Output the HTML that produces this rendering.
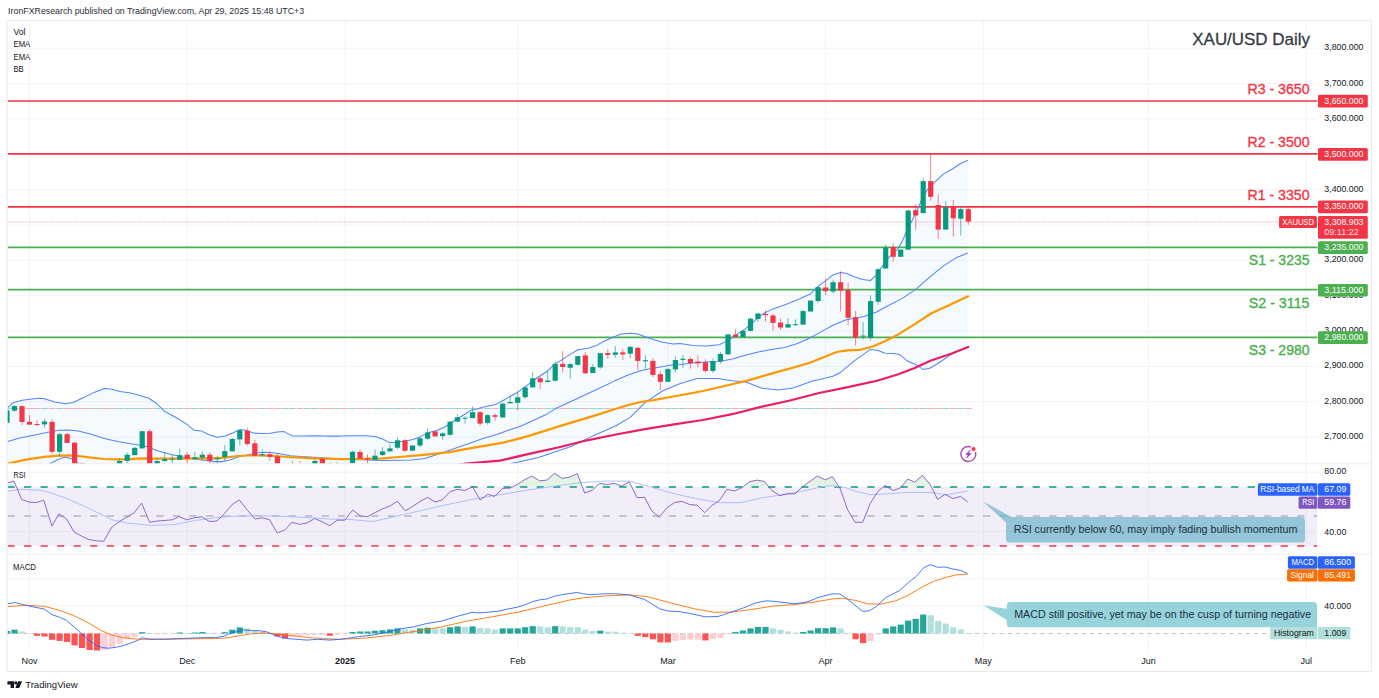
<!DOCTYPE html>
<html><head><meta charset="utf-8"><title>XAU/USD Daily</title>
<style>html,body{margin:0;padding:0;background:#fff;}body{width:1379px;height:698px;overflow:hidden;font-family:"Liberation Sans",Arial,sans-serif;}svg{display:block;}</style>
</head><body>
<svg width="1379" height="698" viewBox="0 0 1379 698" font-family="Liberation Sans, Arial, sans-serif">
<defs>
<clipPath id="c1"><rect x="7.5" y="20.5" width="1310.0" height="443.3"/></clipPath>
<clipPath id="c2"><rect x="7.5" y="463.8" width="1310.0" height="90.19999999999999"/></clipPath>
<clipPath id="c3"><rect x="7.5" y="554.0" width="1310.0" height="96.5"/></clipPath>
<clipPath id="c70"><rect x="7.5" y="463.8" width="1310.0" height="23.0"/></clipPath>
<linearGradient id="gg" x1="0" y1="0" x2="0" y2="1"><stop offset="0" stop-color="#4caf50" stop-opacity="0.17"/><stop offset="1" stop-color="#4caf50" stop-opacity="0.04"/></linearGradient>
</defs>
<rect width="1379" height="698" fill="#fff"/>
<line x1="29.5" y1="20.5" x2="29.5" y2="650.5" stroke="#f3f3f5" stroke-width="1"/>
<line x1="187.2" y1="20.5" x2="187.2" y2="650.5" stroke="#f3f3f5" stroke-width="1"/>
<line x1="344.9" y1="20.5" x2="344.9" y2="650.5" stroke="#f3f3f5" stroke-width="1"/>
<line x1="517.7" y1="20.5" x2="517.7" y2="650.5" stroke="#f3f3f5" stroke-width="1"/>
<line x1="667.9" y1="20.5" x2="667.9" y2="650.5" stroke="#f3f3f5" stroke-width="1"/>
<line x1="825.6" y1="20.5" x2="825.6" y2="650.5" stroke="#f3f3f5" stroke-width="1"/>
<line x1="983.3" y1="20.5" x2="983.3" y2="650.5" stroke="#f3f3f5" stroke-width="1"/>
<line x1="1148.5" y1="20.5" x2="1148.5" y2="650.5" stroke="#f3f3f5" stroke-width="1"/>
<line x1="1306.2" y1="20.5" x2="1306.2" y2="650.5" stroke="#f3f3f5" stroke-width="1"/>
<line x1="7.5" y1="437.2" x2="1317.5" y2="437.2" stroke="#f3f3f5" stroke-width="1"/>
<line x1="7.5" y1="401.8" x2="1317.5" y2="401.8" stroke="#f3f3f5" stroke-width="1"/>
<line x1="7.5" y1="366.4" x2="1317.5" y2="366.4" stroke="#f3f3f5" stroke-width="1"/>
<line x1="7.5" y1="331.1" x2="1317.5" y2="331.1" stroke="#f3f3f5" stroke-width="1"/>
<line x1="7.5" y1="295.7" x2="1317.5" y2="295.7" stroke="#f3f3f5" stroke-width="1"/>
<line x1="7.5" y1="260.4" x2="1317.5" y2="260.4" stroke="#f3f3f5" stroke-width="1"/>
<line x1="7.5" y1="225.0" x2="1317.5" y2="225.0" stroke="#f3f3f5" stroke-width="1"/>
<line x1="7.5" y1="189.6" x2="1317.5" y2="189.6" stroke="#f3f3f5" stroke-width="1"/>
<line x1="7.5" y1="154.3" x2="1317.5" y2="154.3" stroke="#f3f3f5" stroke-width="1"/>
<line x1="7.5" y1="118.9" x2="1317.5" y2="118.9" stroke="#f3f3f5" stroke-width="1"/>
<line x1="7.5" y1="83.6" x2="1317.5" y2="83.6" stroke="#f3f3f5" stroke-width="1"/>
<line x1="7.5" y1="48.2" x2="1317.5" y2="48.2" stroke="#f3f3f5" stroke-width="1"/>
<line x1="7.5" y1="472.3" x2="1317.5" y2="472.3" stroke="#f3f3f5" stroke-width="1"/>
<line x1="7.5" y1="531.5" x2="1317.5" y2="531.5" stroke="#f3f3f5" stroke-width="1"/>
<line x1="7.5" y1="578.7" x2="1317.5" y2="578.7" stroke="#f3f3f5" stroke-width="1"/>
<line x1="7.5" y1="605.8" x2="1317.5" y2="605.8" stroke="#f3f3f5" stroke-width="1"/>
<g clip-path="url(#c1)">
<polygon points="7.8,407.7 13.0,402.8 22.2,400.2 30.0,399.3 39.2,398.3 44.4,398.7 54.8,401.9 65.3,403.8 73.1,402.5 83.6,397.6 94.0,392.4 104.4,388.5 111.0,388.9 120.1,391.5 130.5,393.1 141.0,395.7 148.8,398.3 156.7,403.5 164.5,411.3 170.0,414.2 177.8,418.5 187.0,424.4 194.2,430.3 201.3,430.9 209.2,434.8 217.0,437.2 224.8,436.1 232.7,432.9 240.0,429.6 245.7,430.3 253.6,433.1 261.4,433.5 270.5,433.3 277.0,432.0 284.2,431.6 292.7,436.1 300.5,435.9 313.6,435.7 326.7,436.1 340.0,436.1 353.0,435.7 366.1,435.7 375.2,436.4 383.1,439.2 389.6,442.6 396.1,442.2 405.3,440.9 413.1,439.6 420.9,436.4 428.8,432.4 436.6,430.5 444.4,427.2 451.0,422.7 457.5,418.7 464.0,414.8 470.5,410.5 475.8,409.2 483.6,407.0 495.4,404.4 503.2,400.5 510.0,396.5 517.8,392.2 525.7,386.4 536.1,378.5 547.9,370.7 555.0,363.9 562.2,359.6 570.1,354.4 577.9,349.8 588.3,348.2 596.2,345.6 604.0,341.3 611.8,337.7 621.0,334.1 630.1,333.2 637.9,334.1 645.8,337.0 653.6,339.4 661.4,342.0 673.2,343.9 680.0,343.5 693.1,345.5 706.1,345.9 719.2,344.8 725.7,341.6 732.2,337.7 738.7,333.1 745.3,328.9 751.8,323.3 758.3,317.4 764.9,312.8 771.4,309.6 784.4,305.0 797.5,299.8 800.0,298.6 810.4,294.0 818.3,286.1 826.1,280.3 832.6,275.1 840.5,272.4 847.0,273.4 854.8,277.0 862.7,279.6 870.5,280.5 875.7,275.7 882.2,266.6 888.8,257.4 896.6,250.2 901.8,242.4 905.7,233.3 911.0,222.8 917.5,209.2 922.7,197.4 927.9,189.0 935.8,181.1 943.6,173.9 952.7,168.7 960.6,163.5 967.8,160.2 967.5,346.8 950.5,354.9 937.5,363.8 929.7,368.3 923.1,369.4 916.6,365.1 907.5,361.1 899.6,354.6 893.1,353.6 885.3,353.3 877.4,350.3 870.3,349.4 863.1,354.6 853.9,361.1 840.9,372.2 833.0,376.2 820.0,379.4 813.3,380.8 793.0,388.1 778.5,390.1 761.0,388.1 746.6,382.3 732.0,380.8 717.5,378.5 697.2,378.5 679.8,383.7 662.4,391.0 645.0,402.6 630.5,417.1 616.0,425.8 592.8,435.9 572.5,446.1 537.7,457.7 511.6,463.5 490.0,472.0 400.0,482.0 200.0,482.0 90.0,472.0 78.3,463.5 72.0,459.0 65.3,457.0 58.0,459.5 50.3,463.5 40.0,470.0 7.8,478.0" fill="#2196f3" fill-opacity="0.05"/>
<line x1="3.5" y1="408.5" x2="10.5" y2="408.5" stroke="#86cdc5" stroke-width="1" stroke-opacity="0.85"/>
<line x1="11.0" y1="408.5" x2="18.0" y2="408.5" stroke="#86cdc5" stroke-width="1" stroke-opacity="0.85"/>
<line x1="18.5" y1="408.5" x2="25.5" y2="408.5" stroke="#fa9fa2" stroke-width="1" stroke-opacity="0.85"/>
<line x1="26.0" y1="408.5" x2="33.0" y2="408.5" stroke="#fa9fa2" stroke-width="1" stroke-opacity="0.85"/>
<line x1="33.5" y1="408.5" x2="40.5" y2="408.5" stroke="#fa9fa2" stroke-width="1" stroke-opacity="0.85"/>
<line x1="41.0" y1="408.5" x2="48.0" y2="408.5" stroke="#86cdc5" stroke-width="1" stroke-opacity="0.85"/>
<line x1="48.6" y1="408.5" x2="55.6" y2="408.5" stroke="#fa9fa2" stroke-width="1" stroke-opacity="0.85"/>
<line x1="56.1" y1="408.5" x2="63.1" y2="408.5" stroke="#86cdc5" stroke-width="1" stroke-opacity="0.85"/>
<line x1="63.6" y1="408.5" x2="70.6" y2="408.5" stroke="#fa9fa2" stroke-width="1" stroke-opacity="0.85"/>
<line x1="71.1" y1="408.5" x2="78.1" y2="408.5" stroke="#fa9fa2" stroke-width="1" stroke-opacity="0.85"/>
<line x1="78.6" y1="408.5" x2="85.6" y2="408.5" stroke="#fa9fa2" stroke-width="1" stroke-opacity="0.85"/>
<line x1="86.1" y1="408.5" x2="93.1" y2="408.5" stroke="#fa9fa2" stroke-width="1" stroke-opacity="0.85"/>
<line x1="93.6" y1="408.5" x2="100.6" y2="408.5" stroke="#86cdc5" stroke-width="1" stroke-opacity="0.85"/>
<line x1="101.1" y1="408.5" x2="108.1" y2="408.5" stroke="#fa9fa2" stroke-width="1" stroke-opacity="0.85"/>
<line x1="108.6" y1="408.5" x2="115.6" y2="408.5" stroke="#fa9fa2" stroke-width="1" stroke-opacity="0.85"/>
<line x1="116.1" y1="408.5" x2="123.1" y2="408.5" stroke="#86cdc5" stroke-width="1" stroke-opacity="0.85"/>
<line x1="123.7" y1="408.5" x2="130.7" y2="408.5" stroke="#86cdc5" stroke-width="1" stroke-opacity="0.85"/>
<line x1="131.2" y1="408.5" x2="138.2" y2="408.5" stroke="#86cdc5" stroke-width="1" stroke-opacity="0.85"/>
<line x1="138.7" y1="408.5" x2="145.7" y2="408.5" stroke="#86cdc5" stroke-width="1" stroke-opacity="0.85"/>
<line x1="146.2" y1="408.5" x2="153.2" y2="408.5" stroke="#fa9fa2" stroke-width="1" stroke-opacity="0.85"/>
<line x1="153.7" y1="408.5" x2="160.7" y2="408.5" stroke="#86cdc5" stroke-width="1" stroke-opacity="0.85"/>
<line x1="161.2" y1="408.5" x2="168.2" y2="408.5" stroke="#86cdc5" stroke-width="1" stroke-opacity="0.85"/>
<line x1="168.7" y1="408.5" x2="175.7" y2="408.5" stroke="#86cdc5" stroke-width="1" stroke-opacity="0.85"/>
<line x1="176.2" y1="408.5" x2="183.2" y2="408.5" stroke="#86cdc5" stroke-width="1" stroke-opacity="0.85"/>
<line x1="183.7" y1="408.5" x2="190.7" y2="408.5" stroke="#fa9fa2" stroke-width="1" stroke-opacity="0.85"/>
<line x1="191.2" y1="408.5" x2="198.2" y2="408.5" stroke="#86cdc5" stroke-width="1" stroke-opacity="0.85"/>
<line x1="198.8" y1="408.5" x2="205.8" y2="408.5" stroke="#86cdc5" stroke-width="1" stroke-opacity="0.85"/>
<line x1="206.3" y1="408.5" x2="213.3" y2="408.5" stroke="#fa9fa2" stroke-width="1" stroke-opacity="0.85"/>
<line x1="213.8" y1="408.5" x2="220.8" y2="408.5" stroke="#86cdc5" stroke-width="1" stroke-opacity="0.85"/>
<line x1="221.3" y1="408.5" x2="228.3" y2="408.5" stroke="#86cdc5" stroke-width="1" stroke-opacity="0.85"/>
<line x1="228.8" y1="408.5" x2="235.8" y2="408.5" stroke="#86cdc5" stroke-width="1" stroke-opacity="0.85"/>
<line x1="236.3" y1="408.5" x2="243.3" y2="408.5" stroke="#86cdc5" stroke-width="1" stroke-opacity="0.85"/>
<line x1="243.8" y1="408.5" x2="250.8" y2="408.5" stroke="#fa9fa2" stroke-width="1" stroke-opacity="0.85"/>
<line x1="251.3" y1="408.5" x2="258.3" y2="408.5" stroke="#fa9fa2" stroke-width="1" stroke-opacity="0.85"/>
<line x1="258.8" y1="408.5" x2="265.8" y2="408.5" stroke="#86cdc5" stroke-width="1" stroke-opacity="0.85"/>
<line x1="266.3" y1="408.5" x2="273.3" y2="408.5" stroke="#fa9fa2" stroke-width="1" stroke-opacity="0.85"/>
<line x1="273.9" y1="408.5" x2="280.9" y2="408.5" stroke="#fa9fa2" stroke-width="1" stroke-opacity="0.85"/>
<line x1="281.4" y1="408.5" x2="288.4" y2="408.5" stroke="#86cdc5" stroke-width="1" stroke-opacity="0.85"/>
<line x1="288.9" y1="408.5" x2="295.9" y2="408.5" stroke="#86cdc5" stroke-width="1" stroke-opacity="0.85"/>
<line x1="296.4" y1="408.5" x2="303.4" y2="408.5" stroke="#fa9fa2" stroke-width="1" stroke-opacity="0.85"/>
<line x1="303.9" y1="408.5" x2="310.9" y2="408.5" stroke="#86cdc5" stroke-width="1" stroke-opacity="0.85"/>
<line x1="311.4" y1="408.5" x2="318.4" y2="408.5" stroke="#86cdc5" stroke-width="1" stroke-opacity="0.85"/>
<line x1="318.9" y1="408.5" x2="325.9" y2="408.5" stroke="#fa9fa2" stroke-width="1" stroke-opacity="0.85"/>
<line x1="326.4" y1="408.5" x2="333.4" y2="408.5" stroke="#fa9fa2" stroke-width="1" stroke-opacity="0.85"/>
<line x1="333.9" y1="408.5" x2="340.9" y2="408.5" stroke="#86cdc5" stroke-width="1" stroke-opacity="0.85"/>
<line x1="341.4" y1="408.5" x2="348.4" y2="408.5" stroke="#fa9fa2" stroke-width="1" stroke-opacity="0.85"/>
<line x1="349.0" y1="408.5" x2="356.0" y2="408.5" stroke="#86cdc5" stroke-width="1" stroke-opacity="0.85"/>
<line x1="356.5" y1="408.5" x2="363.5" y2="408.5" stroke="#fa9fa2" stroke-width="1" stroke-opacity="0.85"/>
<line x1="364.0" y1="408.5" x2="371.0" y2="408.5" stroke="#fa9fa2" stroke-width="1" stroke-opacity="0.85"/>
<line x1="371.5" y1="408.5" x2="378.5" y2="408.5" stroke="#86cdc5" stroke-width="1" stroke-opacity="0.85"/>
<line x1="379.0" y1="408.5" x2="386.0" y2="408.5" stroke="#86cdc5" stroke-width="1" stroke-opacity="0.85"/>
<line x1="386.5" y1="408.5" x2="393.5" y2="408.5" stroke="#86cdc5" stroke-width="1" stroke-opacity="0.85"/>
<line x1="394.0" y1="408.5" x2="401.0" y2="408.5" stroke="#86cdc5" stroke-width="1" stroke-opacity="0.85"/>
<line x1="401.5" y1="408.5" x2="408.5" y2="408.5" stroke="#fa9fa2" stroke-width="1" stroke-opacity="0.85"/>
<line x1="409.0" y1="408.5" x2="416.0" y2="408.5" stroke="#86cdc5" stroke-width="1" stroke-opacity="0.85"/>
<line x1="416.6" y1="408.5" x2="423.6" y2="408.5" stroke="#86cdc5" stroke-width="1" stroke-opacity="0.85"/>
<line x1="424.1" y1="408.5" x2="431.1" y2="408.5" stroke="#86cdc5" stroke-width="1" stroke-opacity="0.85"/>
<line x1="431.6" y1="408.5" x2="438.6" y2="408.5" stroke="#fa9fa2" stroke-width="1" stroke-opacity="0.85"/>
<line x1="439.1" y1="408.5" x2="446.1" y2="408.5" stroke="#86cdc5" stroke-width="1" stroke-opacity="0.85"/>
<line x1="446.6" y1="408.5" x2="453.6" y2="408.5" stroke="#86cdc5" stroke-width="1" stroke-opacity="0.85"/>
<line x1="454.1" y1="408.5" x2="461.1" y2="408.5" stroke="#86cdc5" stroke-width="1" stroke-opacity="0.85"/>
<line x1="461.6" y1="408.5" x2="468.6" y2="408.5" stroke="#86cdc5" stroke-width="1" stroke-opacity="0.85"/>
<line x1="469.1" y1="408.5" x2="476.1" y2="408.5" stroke="#86cdc5" stroke-width="1" stroke-opacity="0.85"/>
<line x1="476.6" y1="408.5" x2="483.6" y2="408.5" stroke="#fa9fa2" stroke-width="1" stroke-opacity="0.85"/>
<line x1="484.1" y1="408.5" x2="491.1" y2="408.5" stroke="#86cdc5" stroke-width="1" stroke-opacity="0.85"/>
<line x1="491.6" y1="408.5" x2="498.6" y2="408.5" stroke="#fa9fa2" stroke-width="1" stroke-opacity="0.85"/>
<line x1="499.2" y1="408.5" x2="506.2" y2="408.5" stroke="#86cdc5" stroke-width="1" stroke-opacity="0.85"/>
<line x1="506.7" y1="408.5" x2="513.7" y2="408.5" stroke="#86cdc5" stroke-width="1" stroke-opacity="0.85"/>
<line x1="514.2" y1="408.5" x2="521.2" y2="408.5" stroke="#86cdc5" stroke-width="1" stroke-opacity="0.85"/>
<line x1="521.7" y1="408.5" x2="528.7" y2="408.5" stroke="#86cdc5" stroke-width="1" stroke-opacity="0.85"/>
<line x1="529.2" y1="408.5" x2="536.2" y2="408.5" stroke="#86cdc5" stroke-width="1" stroke-opacity="0.85"/>
<line x1="536.7" y1="408.5" x2="543.7" y2="408.5" stroke="#fa9fa2" stroke-width="1" stroke-opacity="0.85"/>
<line x1="544.2" y1="408.5" x2="551.2" y2="408.5" stroke="#86cdc5" stroke-width="1" stroke-opacity="0.85"/>
<line x1="551.7" y1="408.5" x2="558.7" y2="408.5" stroke="#86cdc5" stroke-width="1" stroke-opacity="0.85"/>
<line x1="559.2" y1="408.5" x2="566.2" y2="408.5" stroke="#fa9fa2" stroke-width="1" stroke-opacity="0.85"/>
<line x1="566.8" y1="408.5" x2="573.8" y2="408.5" stroke="#86cdc5" stroke-width="1" stroke-opacity="0.85"/>
<line x1="574.3" y1="408.5" x2="581.3" y2="408.5" stroke="#86cdc5" stroke-width="1" stroke-opacity="0.85"/>
<line x1="581.8" y1="408.5" x2="588.8" y2="408.5" stroke="#fa9fa2" stroke-width="1" stroke-opacity="0.85"/>
<line x1="589.3" y1="408.5" x2="596.3" y2="408.5" stroke="#86cdc5" stroke-width="1" stroke-opacity="0.85"/>
<line x1="596.8" y1="408.5" x2="603.8" y2="408.5" stroke="#86cdc5" stroke-width="1" stroke-opacity="0.85"/>
<line x1="604.3" y1="408.5" x2="611.3" y2="408.5" stroke="#fa9fa2" stroke-width="1" stroke-opacity="0.85"/>
<line x1="611.8" y1="408.5" x2="618.8" y2="408.5" stroke="#86cdc5" stroke-width="1" stroke-opacity="0.85"/>
<line x1="619.3" y1="408.5" x2="626.3" y2="408.5" stroke="#fa9fa2" stroke-width="1" stroke-opacity="0.85"/>
<line x1="626.8" y1="408.5" x2="633.8" y2="408.5" stroke="#86cdc5" stroke-width="1" stroke-opacity="0.85"/>
<line x1="634.3" y1="408.5" x2="641.3" y2="408.5" stroke="#fa9fa2" stroke-width="1" stroke-opacity="0.85"/>
<line x1="641.9" y1="408.5" x2="648.9" y2="408.5" stroke="#86cdc5" stroke-width="1" stroke-opacity="0.85"/>
<line x1="649.4" y1="408.5" x2="656.4" y2="408.5" stroke="#fa9fa2" stroke-width="1" stroke-opacity="0.85"/>
<line x1="656.9" y1="408.5" x2="663.9" y2="408.5" stroke="#fa9fa2" stroke-width="1" stroke-opacity="0.85"/>
<line x1="664.4" y1="408.5" x2="671.4" y2="408.5" stroke="#86cdc5" stroke-width="1" stroke-opacity="0.85"/>
<line x1="671.9" y1="408.5" x2="678.9" y2="408.5" stroke="#86cdc5" stroke-width="1" stroke-opacity="0.85"/>
<line x1="679.4" y1="408.5" x2="686.4" y2="408.5" stroke="#86cdc5" stroke-width="1" stroke-opacity="0.85"/>
<line x1="686.9" y1="408.5" x2="693.9" y2="408.5" stroke="#fa9fa2" stroke-width="1" stroke-opacity="0.85"/>
<line x1="694.4" y1="408.5" x2="701.4" y2="408.5" stroke="#fa9fa2" stroke-width="1" stroke-opacity="0.85"/>
<line x1="701.9" y1="408.5" x2="708.9" y2="408.5" stroke="#fa9fa2" stroke-width="1" stroke-opacity="0.85"/>
<line x1="709.4" y1="408.5" x2="716.4" y2="408.5" stroke="#86cdc5" stroke-width="1" stroke-opacity="0.85"/>
<line x1="716.9" y1="408.5" x2="723.9" y2="408.5" stroke="#86cdc5" stroke-width="1" stroke-opacity="0.85"/>
<line x1="724.5" y1="408.5" x2="731.5" y2="408.5" stroke="#86cdc5" stroke-width="1" stroke-opacity="0.85"/>
<line x1="732.0" y1="408.5" x2="739.0" y2="408.5" stroke="#fa9fa2" stroke-width="1" stroke-opacity="0.85"/>
<line x1="739.5" y1="408.5" x2="746.5" y2="408.5" stroke="#86cdc5" stroke-width="1" stroke-opacity="0.85"/>
<line x1="747.0" y1="408.5" x2="754.0" y2="408.5" stroke="#86cdc5" stroke-width="1" stroke-opacity="0.85"/>
<line x1="754.5" y1="408.5" x2="761.5" y2="408.5" stroke="#86cdc5" stroke-width="1" stroke-opacity="0.85"/>
<line x1="762.0" y1="408.5" x2="769.0" y2="408.5" stroke="#fa9fa2" stroke-width="1" stroke-opacity="0.85"/>
<line x1="769.5" y1="408.5" x2="776.5" y2="408.5" stroke="#fa9fa2" stroke-width="1" stroke-opacity="0.85"/>
<line x1="777.0" y1="408.5" x2="784.0" y2="408.5" stroke="#fa9fa2" stroke-width="1" stroke-opacity="0.85"/>
<line x1="784.5" y1="408.5" x2="791.5" y2="408.5" stroke="#86cdc5" stroke-width="1" stroke-opacity="0.85"/>
<line x1="792.0" y1="408.5" x2="799.0" y2="408.5" stroke="#86cdc5" stroke-width="1" stroke-opacity="0.85"/>
<line x1="799.6" y1="408.5" x2="806.6" y2="408.5" stroke="#86cdc5" stroke-width="1" stroke-opacity="0.85"/>
<line x1="807.1" y1="408.5" x2="814.1" y2="408.5" stroke="#86cdc5" stroke-width="1" stroke-opacity="0.85"/>
<line x1="814.6" y1="408.5" x2="821.6" y2="408.5" stroke="#86cdc5" stroke-width="1" stroke-opacity="0.85"/>
<line x1="822.1" y1="408.5" x2="829.1" y2="408.5" stroke="#fa9fa2" stroke-width="1" stroke-opacity="0.85"/>
<line x1="829.6" y1="408.5" x2="836.6" y2="408.5" stroke="#86cdc5" stroke-width="1" stroke-opacity="0.85"/>
<line x1="837.1" y1="408.5" x2="844.1" y2="408.5" stroke="#fa9fa2" stroke-width="1" stroke-opacity="0.85"/>
<line x1="844.6" y1="408.5" x2="851.6" y2="408.5" stroke="#fa9fa2" stroke-width="1" stroke-opacity="0.85"/>
<line x1="852.1" y1="408.5" x2="859.1" y2="408.5" stroke="#fa9fa2" stroke-width="1" stroke-opacity="0.85"/>
<line x1="859.6" y1="408.5" x2="866.6" y2="408.5" stroke="#86cdc5" stroke-width="1" stroke-opacity="0.85"/>
<line x1="867.1" y1="408.5" x2="874.1" y2="408.5" stroke="#86cdc5" stroke-width="1" stroke-opacity="0.85"/>
<line x1="874.7" y1="408.5" x2="881.7" y2="408.5" stroke="#86cdc5" stroke-width="1" stroke-opacity="0.85"/>
<line x1="882.2" y1="408.5" x2="889.2" y2="408.5" stroke="#86cdc5" stroke-width="1" stroke-opacity="0.85"/>
<line x1="889.7" y1="408.5" x2="896.7" y2="408.5" stroke="#fa9fa2" stroke-width="1" stroke-opacity="0.85"/>
<line x1="897.2" y1="408.5" x2="904.2" y2="408.5" stroke="#86cdc5" stroke-width="1" stroke-opacity="0.85"/>
<line x1="904.7" y1="408.5" x2="911.7" y2="408.5" stroke="#86cdc5" stroke-width="1" stroke-opacity="0.85"/>
<line x1="912.2" y1="408.5" x2="919.2" y2="408.5" stroke="#fa9fa2" stroke-width="1" stroke-opacity="0.85"/>
<line x1="919.7" y1="408.5" x2="926.7" y2="408.5" stroke="#86cdc5" stroke-width="1" stroke-opacity="0.85"/>
<line x1="927.2" y1="408.5" x2="934.2" y2="408.5" stroke="#fa9fa2" stroke-width="1" stroke-opacity="0.85"/>
<line x1="934.7" y1="408.5" x2="941.7" y2="408.5" stroke="#fa9fa2" stroke-width="1" stroke-opacity="0.85"/>
<line x1="942.2" y1="408.5" x2="949.2" y2="408.5" stroke="#86cdc5" stroke-width="1" stroke-opacity="0.85"/>
<line x1="949.8" y1="408.5" x2="956.8" y2="408.5" stroke="#fa9fa2" stroke-width="1" stroke-opacity="0.85"/>
<line x1="957.3" y1="408.5" x2="964.3" y2="408.5" stroke="#86cdc5" stroke-width="1" stroke-opacity="0.85"/>
<line x1="964.8" y1="408.5" x2="971.8" y2="408.5" stroke="#fa9fa2" stroke-width="1" stroke-opacity="0.85"/>
<line x1="7.5" y1="222" x2="1279" y2="222" stroke="#f23645" stroke-width="1" stroke-dasharray="1 1.2" stroke-opacity="0.5"/>
<line x1="7.5" y1="101.0" x2="1318.5" y2="101.0" stroke="#f23645" stroke-width="1.7"/>
<line x1="7.5" y1="153.9" x2="1318.5" y2="153.9" stroke="#f23645" stroke-width="1.7"/>
<line x1="7.5" y1="206.8" x2="1318.5" y2="206.8" stroke="#f23645" stroke-width="1.7"/>
<line x1="7.5" y1="247.4" x2="1318.5" y2="247.4" stroke="#4caf50" stroke-width="1.7"/>
<line x1="7.5" y1="289.7" x2="1318.5" y2="289.7" stroke="#4caf50" stroke-width="1.7"/>
<line x1="7.5" y1="337.3" x2="1318.5" y2="337.3" stroke="#4caf50" stroke-width="1.7"/>
<polyline points="7.8,407.7 13.0,402.8 22.2,400.2 30.0,399.3 39.2,398.3 44.4,398.7 54.8,401.9 65.3,403.8 73.1,402.5 83.6,397.6 94.0,392.4 104.4,388.5 111.0,388.9 120.1,391.5 130.5,393.1 141.0,395.7 148.8,398.3 156.7,403.5 164.5,411.3 170.0,414.2 177.8,418.5 187.0,424.4 194.2,430.3 201.3,430.9 209.2,434.8 217.0,437.2 224.8,436.1 232.7,432.9 240.0,429.6 245.7,430.3 253.6,433.1 261.4,433.5 270.5,433.3 277.0,432.0 284.2,431.6 292.7,436.1 300.5,435.9 313.6,435.7 326.7,436.1 340.0,436.1 353.0,435.7 366.1,435.7 375.2,436.4 383.1,439.2 389.6,442.6 396.1,442.2 405.3,440.9 413.1,439.6 420.9,436.4 428.8,432.4 436.6,430.5 444.4,427.2 451.0,422.7 457.5,418.7 464.0,414.8 470.5,410.5 475.8,409.2 483.6,407.0 495.4,404.4 503.2,400.5 510.0,396.5 517.8,392.2 525.7,386.4 536.1,378.5 547.9,370.7 555.0,363.9 562.2,359.6 570.1,354.4 577.9,349.8 588.3,348.2 596.2,345.6 604.0,341.3 611.8,337.7 621.0,334.1 630.1,333.2 637.9,334.1 645.8,337.0 653.6,339.4 661.4,342.0 673.2,343.9 680.0,343.5 693.1,345.5 706.1,345.9 719.2,344.8 725.7,341.6 732.2,337.7 738.7,333.1 745.3,328.9 751.8,323.3 758.3,317.4 764.9,312.8 771.4,309.6 784.4,305.0 797.5,299.8 800.0,298.6 810.4,294.0 818.3,286.1 826.1,280.3 832.6,275.1 840.5,272.4 847.0,273.4 854.8,277.0 862.7,279.6 870.5,280.5 875.7,275.7 882.2,266.6 888.8,257.4 896.6,250.2 901.8,242.4 905.7,233.3 911.0,222.8 917.5,209.2 922.7,197.4 927.9,189.0 935.8,181.1 943.6,173.9 952.7,168.7 960.6,163.5 967.8,160.2" fill="none" stroke="#5484ff" stroke-width="1.05" stroke-linejoin="round"/>
<polyline points="7.8,441.6 19.6,438.1 32.6,435.5 44.4,432.9 52.2,431.6 58.7,430.3 67.9,430.0 78.3,430.9 91.4,434.2 104.4,438.5 117.5,441.4 130.5,443.7 141.0,445.3 148.8,447.2 156.7,450.5 164.5,452.8 172.3,454.7 176.5,455.5 183.0,457.0 193.5,459.0 202.6,459.9 213.0,461.6 222.2,461.6 230.0,459.9 237.9,457.0 248.3,454.7 258.8,452.7 266.6,452.2 273.1,452.7 281.0,454.0 290.1,455.7 300.5,456.4 313.6,457.3 326.7,458.1 340.0,459.0 383.0,460.5 411.0,460.0 425.0,458.5 444.4,452.0 457.5,447.5 470.5,442.9 483.6,438.3 496.7,434.4 509.7,429.8 520.0,426.6 545.2,415.1 555.7,408.6 575.3,399.4 594.9,390.3 614.4,381.1 627.5,375.3 640.5,370.7 648.4,369.1 657.5,367.4 673.2,364.8 680.0,364.4 693.1,363.1 706.1,362.1 719.2,361.5 732.2,358.9 745.3,355.3 758.3,352.0 771.4,349.4 784.4,347.4 797.5,343.5 810.5,337.7 820.0,332.4 833.0,325.2 846.1,319.8 863.1,316.8 876.1,312.2 887.9,305.7 901.0,299.1 914.9,290.1 930.5,276.4 943.6,265.9 956.7,257.4 967.8,253.1" fill="none" stroke="#5484ff" stroke-width="1.05" stroke-linejoin="round"/>
<polyline points="7.8,478.0 40.0,470.0 50.3,463.5 58.0,459.5 65.3,457.0 72.0,459.0 78.3,463.5 90.0,472.0 200.0,482.0 400.0,482.0 490.0,472.0 511.6,463.5 537.7,457.7 572.5,446.1 592.8,435.9 616.0,425.8 630.5,417.1 645.0,402.6 662.4,391.0 679.8,383.7 697.2,378.5 717.5,378.5 732.0,380.8 746.6,382.3 761.0,388.1 778.5,390.1 793.0,388.1 813.3,380.8 820.0,379.4 833.0,376.2 840.9,372.2 853.9,361.1 863.1,354.6 870.3,349.4 877.4,350.3 885.3,353.3 893.1,353.6 899.6,354.6 907.5,361.1 916.6,365.1 923.1,369.4 929.7,368.3 937.5,363.8 950.5,354.9 967.5,346.8" fill="none" stroke="#5484ff" stroke-width="1.05" stroke-linejoin="round"/>
<polyline points="440.0,468.0 466.0,463.5 500.0,460.6 529.0,453.9 558.0,447.5 587.0,440.3 616.0,434.5 645.0,429.2 674.0,424.3 703.0,420.0 732.0,414.2 761.0,406.9 790.0,400.5 819.0,393.0 848.0,387.2 877.0,380.8 898.3,374.2 914.0,368.3 931.0,360.5 950.5,354.0 968.2,347.0" fill="none" stroke="#e91e63" stroke-width="2.2" stroke-linejoin="round" stroke-linecap="round"/>
<polyline points="7.8,463.5 26.1,459.6 44.4,456.8 58.7,455.7 67.9,455.3 78.3,456.0 91.4,457.7 104.4,459.0 117.5,459.4 130.5,459.2 141.0,458.3 156.7,458.7 180.0,458.7 196.1,458.3 213.0,458.3 224.8,457.7 237.9,456.0 248.3,455.5 261.4,455.5 274.4,456.0 287.5,457.0 300.5,457.7 313.6,458.3 326.7,458.7 340.0,459.2 366.1,458.9 383.1,458.3 398.7,457.0 418.3,455.3 437.9,453.3 451.0,451.8 464.0,449.4 477.1,447.1 490.1,444.8 503.2,442.6 516.0,439.4 529.0,435.9 558.0,426.6 587.0,417.9 596.2,415.1 614.4,409.2 627.5,405.3 640.5,402.0 653.6,400.1 673.2,396.5 690.0,393.5 703.0,391.0 732.0,384.3 749.2,380.1 771.4,373.6 791.0,368.3 810.5,362.5 823.6,357.2 836.7,352.0 847.1,350.3 860.0,349.8 872.2,346.8 885.3,340.9 898.3,334.4 914.0,324.6 931.0,313.5 950.5,304.4 968.2,296.3" fill="none" stroke="#ff9800" stroke-width="2.2" stroke-linejoin="round" stroke-linecap="round"/>
<line x1="7.0" y1="410.3" x2="7.0" y2="422.8" stroke="#089981" stroke-width="1" stroke-opacity="0.62"/>
<rect x="4.4" y="410.3" width="5.2" height="12.5" fill="#089981"/>
<line x1="14.5" y1="405.0" x2="14.5" y2="411.7" stroke="#089981" stroke-width="1" stroke-opacity="0.62"/>
<rect x="11.9" y="406.1" width="5.2" height="4.6" fill="#089981"/>
<line x1="22.0" y1="405.5" x2="22.0" y2="425.0" stroke="#f23645" stroke-width="1" stroke-opacity="0.62"/>
<rect x="19.4" y="406.1" width="5.2" height="15.9" fill="#f23645"/>
<line x1="29.5" y1="415.0" x2="29.5" y2="425.0" stroke="#f23645" stroke-width="1" stroke-opacity="0.62"/>
<rect x="26.9" y="421.8" width="5.2" height="2.8" fill="#f23645"/>
<line x1="37.0" y1="420.2" x2="37.0" y2="426.0" stroke="#f23645" stroke-width="1" stroke-opacity="0.62"/>
<rect x="34.4" y="424.0" width="5.2" height="1.0" fill="#f23645"/>
<line x1="44.5" y1="418.9" x2="44.5" y2="428.0" stroke="#089981" stroke-width="1" stroke-opacity="0.62"/>
<rect x="41.9" y="421.5" width="5.2" height="2.9" fill="#089981"/>
<line x1="52.1" y1="419.2" x2="52.1" y2="453.8" stroke="#f23645" stroke-width="1" stroke-opacity="0.62"/>
<rect x="49.5" y="421.8" width="5.2" height="30.0" fill="#f23645"/>
<line x1="59.6" y1="432.9" x2="59.6" y2="457.0" stroke="#089981" stroke-width="1" stroke-opacity="0.62"/>
<rect x="57.0" y="434.2" width="5.2" height="17.6" fill="#089981"/>
<line x1="67.1" y1="432.9" x2="67.1" y2="442.9" stroke="#f23645" stroke-width="1" stroke-opacity="0.62"/>
<rect x="64.5" y="434.2" width="5.2" height="8.7" fill="#f23645"/>
<line x1="74.6" y1="442.0" x2="74.6" y2="470.0" stroke="#f23645" stroke-width="1" stroke-opacity="0.62"/>
<rect x="72.0" y="442.7" width="5.2" height="27.3" fill="#f23645"/>
<line x1="82.1" y1="462.9" x2="82.1" y2="470.0" stroke="#f23645" stroke-width="1" stroke-opacity="0.62"/>
<rect x="79.5" y="463.2" width="5.2" height="6.8" fill="#f23645"/>
<line x1="119.6" y1="458.3" x2="119.6" y2="470.0" stroke="#089981" stroke-width="1" stroke-opacity="0.62"/>
<rect x="117.0" y="461.0" width="5.2" height="9.0" fill="#089981"/>
<line x1="127.2" y1="452.5" x2="127.2" y2="464.0" stroke="#089981" stroke-width="1" stroke-opacity="0.62"/>
<rect x="124.6" y="454.7" width="5.2" height="6.2" fill="#089981"/>
<line x1="134.7" y1="446.6" x2="134.7" y2="455.1" stroke="#089981" stroke-width="1" stroke-opacity="0.62"/>
<rect x="132.1" y="447.9" width="5.2" height="7.2" fill="#089981"/>
<line x1="142.2" y1="431.2" x2="142.2" y2="448.4" stroke="#089981" stroke-width="1" stroke-opacity="0.62"/>
<rect x="139.6" y="431.2" width="5.2" height="17.2" fill="#089981"/>
<line x1="149.7" y1="429.3" x2="149.7" y2="470.0" stroke="#f23645" stroke-width="1" stroke-opacity="0.62"/>
<rect x="147.1" y="431.2" width="5.2" height="38.8" fill="#f23645"/>
<line x1="157.2" y1="457.7" x2="157.2" y2="470.0" stroke="#089981" stroke-width="1" stroke-opacity="0.62"/>
<rect x="154.6" y="461.0" width="5.2" height="9.0" fill="#089981"/>
<line x1="164.7" y1="451.8" x2="164.7" y2="461.6" stroke="#089981" stroke-width="1" stroke-opacity="0.62"/>
<rect x="162.1" y="459.0" width="5.2" height="2.0" fill="#089981"/>
<line x1="172.2" y1="454.7" x2="172.2" y2="464.0" stroke="#089981" stroke-width="1" stroke-opacity="0.62"/>
<rect x="169.6" y="458.7" width="5.2" height="1.0" fill="#089981"/>
<line x1="179.7" y1="448.5" x2="179.7" y2="459.9" stroke="#089981" stroke-width="1" stroke-opacity="0.62"/>
<rect x="177.1" y="455.1" width="5.2" height="4.8" fill="#089981"/>
<line x1="187.2" y1="452.1" x2="187.2" y2="464.0" stroke="#f23645" stroke-width="1" stroke-opacity="0.62"/>
<rect x="184.6" y="454.7" width="5.2" height="4.0" fill="#f23645"/>
<line x1="194.8" y1="452.1" x2="194.8" y2="459.2" stroke="#089981" stroke-width="1" stroke-opacity="0.62"/>
<rect x="192.2" y="457.3" width="5.2" height="1.9" fill="#089981"/>
<line x1="202.3" y1="451.5" x2="202.3" y2="460.3" stroke="#089981" stroke-width="1" stroke-opacity="0.62"/>
<rect x="199.7" y="454.7" width="5.2" height="3.0" fill="#089981"/>
<line x1="209.8" y1="452.2" x2="209.8" y2="464.0" stroke="#f23645" stroke-width="1" stroke-opacity="0.62"/>
<rect x="207.2" y="454.7" width="5.2" height="6.2" fill="#f23645"/>
<line x1="217.3" y1="456.1" x2="217.3" y2="464.0" stroke="#089981" stroke-width="1" stroke-opacity="0.62"/>
<rect x="214.7" y="458.3" width="5.2" height="1.0" fill="#089981"/>
<line x1="224.8" y1="445.0" x2="224.8" y2="461.6" stroke="#089981" stroke-width="1" stroke-opacity="0.62"/>
<rect x="222.2" y="451.1" width="5.2" height="5.9" fill="#089981"/>
<line x1="232.3" y1="438.1" x2="232.3" y2="451.4" stroke="#089981" stroke-width="1" stroke-opacity="0.62"/>
<rect x="229.7" y="439.0" width="5.2" height="12.4" fill="#089981"/>
<line x1="239.8" y1="429.3" x2="239.8" y2="445.3" stroke="#089981" stroke-width="1" stroke-opacity="0.62"/>
<rect x="237.2" y="430.3" width="5.2" height="9.1" fill="#089981"/>
<line x1="247.3" y1="427.7" x2="247.3" y2="445.7" stroke="#f23645" stroke-width="1" stroke-opacity="0.62"/>
<rect x="244.7" y="430.7" width="5.2" height="13.3" fill="#f23645"/>
<line x1="254.8" y1="439.8" x2="254.8" y2="455.7" stroke="#f23645" stroke-width="1" stroke-opacity="0.62"/>
<rect x="252.2" y="443.3" width="5.2" height="12.4" fill="#f23645"/>
<line x1="262.3" y1="449.2" x2="262.3" y2="457.0" stroke="#089981" stroke-width="1" stroke-opacity="0.62"/>
<rect x="259.7" y="454.2" width="5.2" height="1.1" fill="#089981"/>
<line x1="269.8" y1="451.5" x2="269.8" y2="460.7" stroke="#f23645" stroke-width="1" stroke-opacity="0.62"/>
<rect x="267.2" y="454.2" width="5.2" height="2.6" fill="#f23645"/>
<line x1="277.4" y1="453.8" x2="277.4" y2="470.0" stroke="#f23645" stroke-width="1" stroke-opacity="0.62"/>
<rect x="274.8" y="456.4" width="5.2" height="13.6" fill="#f23645"/>
<line x1="292.4" y1="460.7" x2="292.4" y2="470.0" stroke="#089981" stroke-width="1" stroke-opacity="0.62"/>
<rect x="289.8" y="465.0" width="5.2" height="5.0" fill="#089981"/>
<line x1="299.9" y1="461.0" x2="299.9" y2="470.0" stroke="#f23645" stroke-width="1" stroke-opacity="0.62"/>
<rect x="297.3" y="465.0" width="5.2" height="5.0" fill="#f23645"/>
<line x1="314.9" y1="458.7" x2="314.9" y2="470.0" stroke="#089981" stroke-width="1" stroke-opacity="0.62"/>
<rect x="312.3" y="461.0" width="5.2" height="9.0" fill="#089981"/>
<line x1="322.4" y1="457.6" x2="322.4" y2="470.0" stroke="#f23645" stroke-width="1" stroke-opacity="0.62"/>
<rect x="319.8" y="458.7" width="5.2" height="11.3" fill="#f23645"/>
<line x1="329.9" y1="462.3" x2="329.9" y2="470.0" stroke="#f23645" stroke-width="1" stroke-opacity="0.62"/>
<rect x="327.3" y="465.0" width="5.2" height="5.0" fill="#f23645"/>
<line x1="337.4" y1="462.0" x2="337.4" y2="470.0" stroke="#089981" stroke-width="1" stroke-opacity="0.62"/>
<rect x="334.8" y="465.0" width="5.2" height="5.0" fill="#089981"/>
<line x1="352.5" y1="450.7" x2="352.5" y2="464.0" stroke="#089981" stroke-width="1" stroke-opacity="0.62"/>
<rect x="349.9" y="451.8" width="5.2" height="11.3" fill="#089981"/>
<line x1="360.0" y1="449.4" x2="360.0" y2="458.6" stroke="#f23645" stroke-width="1" stroke-opacity="0.62"/>
<rect x="357.4" y="452.0" width="5.2" height="6.6" fill="#f23645"/>
<line x1="367.5" y1="454.6" x2="367.5" y2="464.0" stroke="#f23645" stroke-width="1" stroke-opacity="0.62"/>
<rect x="364.9" y="458.2" width="5.2" height="1.3" fill="#f23645"/>
<line x1="375.0" y1="449.4" x2="375.0" y2="459.9" stroke="#089981" stroke-width="1" stroke-opacity="0.62"/>
<rect x="372.4" y="455.7" width="5.2" height="4.2" fill="#089981"/>
<line x1="382.5" y1="447.2" x2="382.5" y2="456.0" stroke="#089981" stroke-width="1" stroke-opacity="0.62"/>
<rect x="379.9" y="451.4" width="5.2" height="3.6" fill="#089981"/>
<line x1="390.0" y1="444.2" x2="390.0" y2="451.4" stroke="#089981" stroke-width="1" stroke-opacity="0.62"/>
<rect x="387.4" y="448.4" width="5.2" height="3.0" fill="#089981"/>
<line x1="397.5" y1="437.4" x2="397.5" y2="449.2" stroke="#089981" stroke-width="1" stroke-opacity="0.62"/>
<rect x="394.9" y="440.3" width="5.2" height="7.4" fill="#089981"/>
<line x1="405.0" y1="439.2" x2="405.0" y2="452.0" stroke="#f23645" stroke-width="1" stroke-opacity="0.62"/>
<rect x="402.4" y="440.3" width="5.2" height="10.4" fill="#f23645"/>
<line x1="412.5" y1="445.5" x2="412.5" y2="450.7" stroke="#089981" stroke-width="1" stroke-opacity="0.62"/>
<rect x="409.9" y="445.5" width="5.2" height="5.2" fill="#089981"/>
<line x1="420.1" y1="437.4" x2="420.1" y2="447.5" stroke="#089981" stroke-width="1" stroke-opacity="0.62"/>
<rect x="417.4" y="438.3" width="5.2" height="7.2" fill="#089981"/>
<line x1="427.6" y1="428.3" x2="427.6" y2="439.9" stroke="#089981" stroke-width="1" stroke-opacity="0.62"/>
<rect x="425.0" y="432.4" width="5.2" height="6.3" fill="#089981"/>
<line x1="435.1" y1="431.4" x2="435.1" y2="436.4" stroke="#f23645" stroke-width="1" stroke-opacity="0.62"/>
<rect x="432.5" y="431.4" width="5.2" height="5.0" fill="#f23645"/>
<line x1="442.6" y1="432.4" x2="442.6" y2="439.9" stroke="#089981" stroke-width="1" stroke-opacity="0.62"/>
<rect x="440.0" y="433.4" width="5.2" height="2.7" fill="#089981"/>
<line x1="450.1" y1="421.0" x2="450.1" y2="435.7" stroke="#089981" stroke-width="1" stroke-opacity="0.62"/>
<rect x="447.5" y="421.7" width="5.2" height="13.1" fill="#089981"/>
<line x1="457.6" y1="414.2" x2="457.6" y2="421.6" stroke="#089981" stroke-width="1" stroke-opacity="0.62"/>
<rect x="455.0" y="417.2" width="5.2" height="4.4" fill="#089981"/>
<line x1="465.1" y1="416.1" x2="465.1" y2="423.7" stroke="#089981" stroke-width="1" stroke-opacity="0.62"/>
<rect x="462.5" y="417.8" width="5.2" height="1.0" fill="#089981"/>
<line x1="472.6" y1="406.3" x2="472.6" y2="418.1" stroke="#089981" stroke-width="1" stroke-opacity="0.62"/>
<rect x="470.0" y="412.2" width="5.2" height="5.9" fill="#089981"/>
<line x1="480.1" y1="411.3" x2="480.1" y2="425.7" stroke="#f23645" stroke-width="1" stroke-opacity="0.62"/>
<rect x="477.5" y="412.2" width="5.2" height="11.4" fill="#f23645"/>
<line x1="487.6" y1="414.2" x2="487.6" y2="424.6" stroke="#089981" stroke-width="1" stroke-opacity="0.62"/>
<rect x="485.0" y="415.1" width="5.2" height="7.8" fill="#089981"/>
<line x1="495.1" y1="413.3" x2="495.1" y2="420.7" stroke="#f23645" stroke-width="1" stroke-opacity="0.62"/>
<rect x="492.5" y="415.2" width="5.2" height="1.6" fill="#f23645"/>
<line x1="502.7" y1="402.4" x2="502.7" y2="417.4" stroke="#089981" stroke-width="1" stroke-opacity="0.62"/>
<rect x="500.1" y="403.7" width="5.2" height="13.7" fill="#089981"/>
<line x1="510.2" y1="395.8" x2="510.2" y2="403.3" stroke="#089981" stroke-width="1" stroke-opacity="0.62"/>
<rect x="507.6" y="402.0" width="5.2" height="1.3" fill="#089981"/>
<line x1="517.7" y1="391.1" x2="517.7" y2="410.3" stroke="#089981" stroke-width="1" stroke-opacity="0.62"/>
<rect x="515.1" y="397.3" width="5.2" height="5.5" fill="#089981"/>
<line x1="525.2" y1="386.4" x2="525.2" y2="398.8" stroke="#089981" stroke-width="1" stroke-opacity="0.62"/>
<rect x="522.6" y="387.4" width="5.2" height="9.8" fill="#089981"/>
<line x1="532.7" y1="372.0" x2="532.7" y2="387.4" stroke="#089981" stroke-width="1" stroke-opacity="0.62"/>
<rect x="530.1" y="378.3" width="5.2" height="9.1" fill="#089981"/>
<line x1="540.2" y1="376.2" x2="540.2" y2="389.0" stroke="#f23645" stroke-width="1" stroke-opacity="0.62"/>
<rect x="537.6" y="378.3" width="5.2" height="3.9" fill="#f23645"/>
<line x1="547.7" y1="371.3" x2="547.7" y2="382.0" stroke="#089981" stroke-width="1" stroke-opacity="0.62"/>
<rect x="545.1" y="380.5" width="5.2" height="1.5" fill="#089981"/>
<line x1="555.2" y1="362.2" x2="555.2" y2="381.8" stroke="#089981" stroke-width="1" stroke-opacity="0.62"/>
<rect x="552.6" y="363.9" width="5.2" height="16.8" fill="#089981"/>
<line x1="562.7" y1="351.1" x2="562.7" y2="372.6" stroke="#f23645" stroke-width="1" stroke-opacity="0.62"/>
<rect x="560.1" y="363.9" width="5.2" height="3.1" fill="#f23645"/>
<line x1="570.2" y1="362.9" x2="570.2" y2="378.8" stroke="#089981" stroke-width="1" stroke-opacity="0.62"/>
<rect x="567.6" y="364.2" width="5.2" height="3.5" fill="#089981"/>
<line x1="577.8" y1="356.1" x2="577.8" y2="365.7" stroke="#089981" stroke-width="1" stroke-opacity="0.62"/>
<rect x="575.2" y="356.1" width="5.2" height="8.7" fill="#089981"/>
<line x1="585.3" y1="351.8" x2="585.3" y2="374.0" stroke="#f23645" stroke-width="1" stroke-opacity="0.62"/>
<rect x="582.7" y="355.4" width="5.2" height="17.9" fill="#f23645"/>
<line x1="592.8" y1="363.9" x2="592.8" y2="373.0" stroke="#089981" stroke-width="1" stroke-opacity="0.62"/>
<rect x="590.2" y="367.0" width="5.2" height="6.0" fill="#089981"/>
<line x1="600.3" y1="353.1" x2="600.3" y2="368.7" stroke="#089981" stroke-width="1" stroke-opacity="0.62"/>
<rect x="597.7" y="353.1" width="5.2" height="14.3" fill="#089981"/>
<line x1="607.8" y1="349.2" x2="607.8" y2="358.9" stroke="#f23645" stroke-width="1" stroke-opacity="0.62"/>
<rect x="605.2" y="353.1" width="5.2" height="1.9" fill="#f23645"/>
<line x1="615.3" y1="345.9" x2="615.3" y2="357.6" stroke="#089981" stroke-width="1" stroke-opacity="0.62"/>
<rect x="612.7" y="352.4" width="5.2" height="2.4" fill="#089981"/>
<line x1="622.8" y1="348.8" x2="622.8" y2="360.0" stroke="#f23645" stroke-width="1" stroke-opacity="0.62"/>
<rect x="620.2" y="352.4" width="5.2" height="2.0" fill="#f23645"/>
<line x1="630.3" y1="345.9" x2="630.3" y2="358.3" stroke="#089981" stroke-width="1" stroke-opacity="0.62"/>
<rect x="627.7" y="346.9" width="5.2" height="6.8" fill="#089981"/>
<line x1="637.8" y1="347.2" x2="637.8" y2="370.0" stroke="#f23645" stroke-width="1" stroke-opacity="0.62"/>
<rect x="635.2" y="347.8" width="5.2" height="13.1" fill="#f23645"/>
<line x1="645.4" y1="355.3" x2="645.4" y2="368.7" stroke="#089981" stroke-width="1" stroke-opacity="0.62"/>
<rect x="642.8" y="360.2" width="5.2" height="1.1" fill="#089981"/>
<line x1="652.9" y1="358.3" x2="652.9" y2="377.0" stroke="#f23645" stroke-width="1" stroke-opacity="0.62"/>
<rect x="650.3" y="360.9" width="5.2" height="14.0" fill="#f23645"/>
<line x1="660.4" y1="371.0" x2="660.4" y2="389.9" stroke="#f23645" stroke-width="1" stroke-opacity="0.62"/>
<rect x="657.8" y="374.2" width="5.2" height="7.6" fill="#f23645"/>
<line x1="667.9" y1="367.8" x2="667.9" y2="381.8" stroke="#089981" stroke-width="1" stroke-opacity="0.62"/>
<rect x="665.3" y="369.1" width="5.2" height="12.7" fill="#089981"/>
<line x1="675.4" y1="356.1" x2="675.4" y2="372.6" stroke="#089981" stroke-width="1" stroke-opacity="0.62"/>
<rect x="672.8" y="360.0" width="5.2" height="9.4" fill="#089981"/>
<line x1="682.9" y1="355.1" x2="682.9" y2="367.9" stroke="#089981" stroke-width="1" stroke-opacity="0.62"/>
<rect x="680.3" y="358.8" width="5.2" height="1.1" fill="#089981"/>
<line x1="690.4" y1="357.0" x2="690.4" y2="368.7" stroke="#f23645" stroke-width="1" stroke-opacity="0.62"/>
<rect x="687.8" y="359.0" width="5.2" height="4.0" fill="#f23645"/>
<line x1="697.9" y1="355.3" x2="697.9" y2="367.3" stroke="#f23645" stroke-width="1" stroke-opacity="0.62"/>
<rect x="695.3" y="361.5" width="5.2" height="1.9" fill="#f23645"/>
<line x1="705.4" y1="359.2" x2="705.4" y2="372.6" stroke="#f23645" stroke-width="1" stroke-opacity="0.62"/>
<rect x="702.8" y="362.2" width="5.2" height="8.7" fill="#f23645"/>
<line x1="712.9" y1="358.5" x2="712.9" y2="372.9" stroke="#089981" stroke-width="1" stroke-opacity="0.62"/>
<rect x="710.3" y="361.1" width="5.2" height="9.8" fill="#089981"/>
<line x1="720.4" y1="352.0" x2="720.4" y2="363.8" stroke="#089981" stroke-width="1" stroke-opacity="0.62"/>
<rect x="717.8" y="354.0" width="5.2" height="7.5" fill="#089981"/>
<line x1="728.0" y1="334.4" x2="728.0" y2="354.4" stroke="#089981" stroke-width="1" stroke-opacity="0.62"/>
<rect x="725.4" y="334.4" width="5.2" height="20.0" fill="#089981"/>
<line x1="735.5" y1="329.2" x2="735.5" y2="337.0" stroke="#f23645" stroke-width="1" stroke-opacity="0.62"/>
<rect x="732.9" y="334.6" width="5.2" height="2.4" fill="#f23645"/>
<line x1="743.0" y1="330.0" x2="743.0" y2="337.0" stroke="#089981" stroke-width="1" stroke-opacity="0.62"/>
<rect x="740.4" y="330.9" width="5.2" height="6.1" fill="#089981"/>
<line x1="750.5" y1="317.4" x2="750.5" y2="330.9" stroke="#089981" stroke-width="1" stroke-opacity="0.62"/>
<rect x="747.9" y="318.7" width="5.2" height="12.2" fill="#089981"/>
<line x1="758.0" y1="312.8" x2="758.0" y2="322.0" stroke="#089981" stroke-width="1" stroke-opacity="0.62"/>
<rect x="755.4" y="313.5" width="5.2" height="5.5" fill="#089981"/>
<line x1="765.5" y1="310.2" x2="765.5" y2="321.7" stroke="#f23645" stroke-width="1" stroke-opacity="0.62"/>
<rect x="762.9" y="313.9" width="5.2" height="1.2" fill="#f23645"/>
<line x1="773.0" y1="314.2" x2="773.0" y2="330.9" stroke="#f23645" stroke-width="1" stroke-opacity="0.62"/>
<rect x="770.4" y="315.5" width="5.2" height="7.4" fill="#f23645"/>
<line x1="780.5" y1="318.5" x2="780.5" y2="329.8" stroke="#f23645" stroke-width="1" stroke-opacity="0.62"/>
<rect x="777.9" y="322.6" width="5.2" height="4.9" fill="#f23645"/>
<line x1="788.0" y1="318.1" x2="788.0" y2="327.6" stroke="#089981" stroke-width="1" stroke-opacity="0.62"/>
<rect x="785.4" y="324.2" width="5.2" height="3.4" fill="#089981"/>
<line x1="795.5" y1="319.4" x2="795.5" y2="325.9" stroke="#089981" stroke-width="1" stroke-opacity="0.62"/>
<rect x="792.9" y="324.2" width="5.2" height="1.0" fill="#089981"/>
<line x1="803.1" y1="309.6" x2="803.1" y2="324.6" stroke="#089981" stroke-width="1" stroke-opacity="0.62"/>
<rect x="800.5" y="311.1" width="5.2" height="13.5" fill="#089981"/>
<line x1="810.6" y1="300.6" x2="810.6" y2="311.5" stroke="#089981" stroke-width="1" stroke-opacity="0.62"/>
<rect x="808.0" y="300.6" width="5.2" height="10.9" fill="#089981"/>
<line x1="818.1" y1="286.1" x2="818.1" y2="303.2" stroke="#089981" stroke-width="1" stroke-opacity="0.62"/>
<rect x="815.5" y="287.2" width="5.2" height="13.8" fill="#089981"/>
<line x1="825.6" y1="278.3" x2="825.6" y2="295.0" stroke="#f23645" stroke-width="1" stroke-opacity="0.62"/>
<rect x="823.0" y="287.5" width="5.2" height="3.7" fill="#f23645"/>
<line x1="833.1" y1="279.6" x2="833.1" y2="293.5" stroke="#089981" stroke-width="1" stroke-opacity="0.62"/>
<rect x="830.5" y="282.2" width="5.2" height="9.3" fill="#089981"/>
<line x1="840.6" y1="271.4" x2="840.6" y2="311.5" stroke="#f23645" stroke-width="1" stroke-opacity="0.62"/>
<rect x="838.0" y="282.2" width="5.2" height="8.5" fill="#f23645"/>
<line x1="848.1" y1="282.6" x2="848.1" y2="325.2" stroke="#f23645" stroke-width="1" stroke-opacity="0.62"/>
<rect x="845.5" y="290.1" width="5.2" height="27.7" fill="#f23645"/>
<line x1="855.6" y1="310.9" x2="855.6" y2="345.5" stroke="#f23645" stroke-width="1" stroke-opacity="0.62"/>
<rect x="853.0" y="317.2" width="5.2" height="20.5" fill="#f23645"/>
<line x1="863.1" y1="322.0" x2="863.1" y2="339.6" stroke="#089981" stroke-width="1" stroke-opacity="0.62"/>
<rect x="860.5" y="335.6" width="5.2" height="1.0" fill="#089981"/>
<line x1="870.6" y1="295.4" x2="870.6" y2="340.7" stroke="#089981" stroke-width="1" stroke-opacity="0.62"/>
<rect x="868.0" y="301.1" width="5.2" height="36.6" fill="#089981"/>
<line x1="878.2" y1="268.3" x2="878.2" y2="304.8" stroke="#089981" stroke-width="1" stroke-opacity="0.62"/>
<rect x="875.6" y="269.2" width="5.2" height="32.6" fill="#089981"/>
<line x1="885.7" y1="244.4" x2="885.7" y2="268.5" stroke="#089981" stroke-width="1" stroke-opacity="0.62"/>
<rect x="883.1" y="247.4" width="5.2" height="21.1" fill="#089981"/>
<line x1="893.2" y1="243.1" x2="893.2" y2="261.7" stroke="#f23645" stroke-width="1" stroke-opacity="0.62"/>
<rect x="890.6" y="247.0" width="5.2" height="9.8" fill="#f23645"/>
<line x1="900.7" y1="249.6" x2="900.7" y2="256.8" stroke="#089981" stroke-width="1" stroke-opacity="0.62"/>
<rect x="898.1" y="249.6" width="5.2" height="7.2" fill="#089981"/>
<line x1="908.2" y1="209.8" x2="908.2" y2="249.6" stroke="#089981" stroke-width="1" stroke-opacity="0.62"/>
<rect x="905.6" y="210.5" width="5.2" height="39.1" fill="#089981"/>
<line x1="915.7" y1="204.0" x2="915.7" y2="229.6" stroke="#f23645" stroke-width="1" stroke-opacity="0.62"/>
<rect x="913.1" y="210.2" width="5.2" height="5.3" fill="#f23645"/>
<line x1="923.2" y1="177.9" x2="923.2" y2="213.1" stroke="#089981" stroke-width="1" stroke-opacity="0.62"/>
<rect x="920.6" y="181.1" width="5.2" height="32.0" fill="#089981"/>
<line x1="930.7" y1="154.1" x2="930.7" y2="200.7" stroke="#f23645" stroke-width="1" stroke-opacity="0.62"/>
<rect x="928.1" y="181.1" width="5.2" height="15.7" fill="#f23645"/>
<line x1="938.2" y1="194.2" x2="938.2" y2="238.9" stroke="#f23645" stroke-width="1" stroke-opacity="0.62"/>
<rect x="935.6" y="205.0" width="5.2" height="24.6" fill="#f23645"/>
<line x1="945.8" y1="200.7" x2="945.8" y2="229.6" stroke="#089981" stroke-width="1" stroke-opacity="0.62"/>
<rect x="943.1" y="207.2" width="5.2" height="22.4" fill="#089981"/>
<line x1="953.3" y1="200.0" x2="953.3" y2="236.5" stroke="#f23645" stroke-width="1" stroke-opacity="0.62"/>
<rect x="950.7" y="206.6" width="5.2" height="11.7" fill="#f23645"/>
<line x1="960.8" y1="206.6" x2="960.8" y2="235.6" stroke="#089981" stroke-width="1" stroke-opacity="0.62"/>
<rect x="958.2" y="209.2" width="5.2" height="9.5" fill="#089981"/>
<line x1="968.3" y1="206.6" x2="968.3" y2="224.9" stroke="#f23645" stroke-width="1" stroke-opacity="0.62"/>
<rect x="965.7" y="209.2" width="5.2" height="12.4" fill="#f23645"/>
</g>
<g transform="translate(968.3,454)" fill="none" stroke="#9c27b0" stroke-width="1.4" stroke-linecap="round"><path d="M 2.3 -7.15 A 7.5 7.5 0 1 0 7.35 -1.5" stroke-opacity="0.85"/><path d="M 1.8 -3.6 L -2.6 0.6 L 0.2 0.6 L -1.8 4 L 2.8 -0.6 L 0 -0.6 Z" fill="#9c27b0" stroke-width="0.6" stroke-linejoin="round"/></g>
<circle cx="973.6" cy="449" r="2" fill="#f23645"/>
<g clip-path="url(#c2)">
<rect x="7.5" y="487" width="1310.0" height="59" fill="#7e57c2" fill-opacity="0.1"/>
<polygon points="7.6,560.0 7.6,482.9 14.0,481.1 21.6,499.4 29.2,502.2 36.8,502.5 43.7,500.2 52.0,526.1 58.9,513.9 66.5,519.0 74.1,531.9 81.7,536.2 88.8,539.5 96.4,540.8 103.6,541.3 111.7,527.3 119.3,521.5 126.9,517.2 134.0,512.9 141.6,503.2 149.7,522.3 157.4,521.0 165.0,520.5 172.6,519.7 178.9,516.7 186.5,519.7 194.2,517.9 201.8,516.7 209.4,521.5 217.0,521.0 224.6,513.4 232.2,504.5 239.3,499.9 247.5,510.3 255.1,519.0 262.7,517.9 269.5,519.7 277.2,532.9 284.8,530.1 291.9,522.3 299.5,524.3 307.1,523.0 314.7,518.5 322.3,521.8 329.9,525.6 337.1,520.2 344.7,520.2 352.7,510.1 360.3,515.9 367.4,516.7 375.0,512.6 382.6,508.8 390.3,505.8 397.4,501.2 405.2,510.8 412.8,506.3 420.2,501.4 427.6,497.4 435.2,502.0 442.3,499.9 449.9,491.8 457.3,489.3 464.9,490.5 472.5,486.7 480.1,499.9 487.7,494.3 494.8,496.4 502.4,488.5 510.6,488.0 517.7,484.2 524.8,479.6 531.9,476.1 539.7,480.9 546.9,480.1 554.5,473.3 562.1,478.4 569.7,477.1 577.3,473.5 584.7,493.1 592.3,490.0 599.6,483.4 607.0,484.4 614.1,483.4 621.7,486.0 629.3,481.9 637.0,497.6 644.6,497.4 651.7,510.8 659.3,517.2 666.9,507.8 674.5,502.5 681.9,501.4 689.6,504.5 697.3,505.3 704.6,512.6 712.2,505.3 719.3,500.7 727.0,489.3 734.6,491.0 742.2,487.5 749.8,481.6 757.4,480.1 764.5,481.6 771.9,490.5 779.7,495.6 787.4,493.8 795.0,493.8 802.6,486.7 810.2,481.1 817.6,476.1 825.2,479.9 832.3,476.6 839.9,488.0 847.5,509.6 855.1,522.3 862.7,522.3 870.4,503.2 878.0,491.3 885.1,485.5 893.2,490.5 900.3,488.0 907.7,479.1 914.8,482.2 922.4,475.3 930.0,484.2 937.6,499.4 945.2,494.3 952.8,498.7 960.5,496.4 967.6,501.9 967.6,560.0" fill="url(#gg)" clip-path="url(#c70)"/>
<line x1="7.5" y1="487" x2="1317.5" y2="487" stroke="#089981" stroke-width="1.6" stroke-dasharray="7.2 9.335"/>
<line x1="7.5" y1="516" x2="1317.5" y2="516" stroke="#b2b5be" stroke-width="1.6" stroke-dasharray="7.2 9.335"/>
<line x1="7.5" y1="546" x2="1317.5" y2="546" stroke="#f23645" stroke-width="1.6" stroke-dasharray="7.2 9.335"/>
<polyline points="7.6,491.3 20.3,489.3 43.1,490.5 66.0,498.1 88.8,508.3 111.7,519.7 126.9,523.0 149.7,525.3 172.6,524.8 195.4,520.5 215.7,517.7 238.6,515.9 269.0,515.9 291.9,516.7 329.9,519.0 350.0,519.5 373.0,521.5 403.5,514.6 441.5,505.8 472.0,499.4 502.4,494.3 532.9,489.3 563.4,484.9 583.7,482.4 606.5,481.1 629.3,481.1 649.6,486.7 670.0,492.6 680.0,495.1 700.3,499.4 720.6,502.7 740.9,502.7 761.2,498.1 781.5,494.8 801.8,491.3 822.1,486.7 832.3,485.5 845.0,487.5 857.7,491.8 870.4,494.8 888.1,493.8 908.4,492.3 931.3,492.6 946.5,494.8 967.6,491.0" fill="none" stroke="#a9c0fb" stroke-width="1" stroke-linejoin="round"/>
<polyline points="7.6,482.9 14.0,481.1 21.6,499.4 29.2,502.2 36.8,502.5 43.7,500.2 52.0,526.1 58.9,513.9 66.5,519.0 74.1,531.9 81.7,536.2 88.8,539.5 96.4,540.8 103.6,541.3 111.7,527.3 119.3,521.5 126.9,517.2 134.0,512.9 141.6,503.2 149.7,522.3 157.4,521.0 165.0,520.5 172.6,519.7 178.9,516.7 186.5,519.7 194.2,517.9 201.8,516.7 209.4,521.5 217.0,521.0 224.6,513.4 232.2,504.5 239.3,499.9 247.5,510.3 255.1,519.0 262.7,517.9 269.5,519.7 277.2,532.9 284.8,530.1 291.9,522.3 299.5,524.3 307.1,523.0 314.7,518.5 322.3,521.8 329.9,525.6 337.1,520.2 344.7,520.2 352.7,510.1 360.3,515.9 367.4,516.7 375.0,512.6 382.6,508.8 390.3,505.8 397.4,501.2 405.2,510.8 412.8,506.3 420.2,501.4 427.6,497.4 435.2,502.0 442.3,499.9 449.9,491.8 457.3,489.3 464.9,490.5 472.5,486.7 480.1,499.9 487.7,494.3 494.8,496.4 502.4,488.5 510.6,488.0 517.7,484.2 524.8,479.6 531.9,476.1 539.7,480.9 546.9,480.1 554.5,473.3 562.1,478.4 569.7,477.1 577.3,473.5 584.7,493.1 592.3,490.0 599.6,483.4 607.0,484.4 614.1,483.4 621.7,486.0 629.3,481.9 637.0,497.6 644.6,497.4 651.7,510.8 659.3,517.2 666.9,507.8 674.5,502.5 681.9,501.4 689.6,504.5 697.3,505.3 704.6,512.6 712.2,505.3 719.3,500.7 727.0,489.3 734.6,491.0 742.2,487.5 749.8,481.6 757.4,480.1 764.5,481.6 771.9,490.5 779.7,495.6 787.4,493.8 795.0,493.8 802.6,486.7 810.2,481.1 817.6,476.1 825.2,479.9 832.3,476.6 839.9,488.0 847.5,509.6 855.1,522.3 862.7,522.3 870.4,503.2 878.0,491.3 885.1,485.5 893.2,490.5 900.3,488.0 907.7,479.1 914.8,482.2 922.4,475.3 930.0,484.2 937.6,499.4 945.2,494.3 952.8,498.7 960.5,496.4 967.6,501.9" fill="none" stroke="#7e57c2" stroke-width="1" stroke-opacity="0.88" stroke-linejoin="round"/>
</g>
<g clip-path="url(#c3)">
<line x1="7.5" y1="633.5" x2="1317.5" y2="633.5" stroke="#c3c6cd" stroke-width="1" stroke-dasharray="4 4.2"/>
<rect x="3.9" y="631.0" width="6.2" height="2.5" fill="#26a69a"/>
<rect x="11.4" y="629.7" width="6.2" height="3.8" fill="#26a69a"/>
<rect x="18.9" y="631.5" width="6.2" height="2.0" fill="#b2dfdb"/>
<rect x="26.4" y="633.5" width="6.2" height="0.6" fill="#ffcdd2"/>
<rect x="33.9" y="633.5" width="6.2" height="2.3" fill="#ff5252"/>
<rect x="41.4" y="633.5" width="6.2" height="3.0" fill="#ff5252"/>
<rect x="49.0" y="633.5" width="6.2" height="6.3" fill="#ff5252"/>
<rect x="56.5" y="633.5" width="6.2" height="7.4" fill="#ff5252"/>
<rect x="64.0" y="633.5" width="6.2" height="8.4" fill="#ff5252"/>
<rect x="71.5" y="633.5" width="6.2" height="11.9" fill="#ff5252"/>
<rect x="79.0" y="633.5" width="6.2" height="14.5" fill="#ff5252"/>
<rect x="86.5" y="633.5" width="6.2" height="16.5" fill="#ff5252"/>
<rect x="94.0" y="633.5" width="6.2" height="18.3" fill="#ff5252"/>
<rect x="101.5" y="633.5" width="6.2" height="16.5" fill="#ffcdd2"/>
<rect x="109.0" y="633.5" width="6.2" height="14.0" fill="#ffcdd2"/>
<rect x="116.5" y="633.5" width="6.2" height="10.2" fill="#ffcdd2"/>
<rect x="124.1" y="633.5" width="6.2" height="5.1" fill="#ffcdd2"/>
<rect x="131.6" y="633.5" width="6.2" height="3.6" fill="#ffcdd2"/>
<rect x="139.1" y="632.2" width="6.2" height="1.3" fill="#26a69a"/>
<rect x="146.6" y="633.0" width="6.2" height="0.5" fill="#b2dfdb"/>
<rect x="154.1" y="633.5" width="6.2" height="0.8" fill="#ffcdd2"/>
<rect x="161.6" y="633.5" width="6.2" height="0.6" fill="#ffcdd2"/>
<rect x="169.1" y="633.5" width="6.2" height="0.6" fill="#ffcdd2"/>
<rect x="176.6" y="632.5" width="6.2" height="1.0" fill="#26a69a"/>
<rect x="184.1" y="633.0" width="6.2" height="0.5" fill="#b2dfdb"/>
<rect x="191.7" y="632.5" width="6.2" height="1.0" fill="#26a69a"/>
<rect x="199.2" y="632.0" width="6.2" height="1.5" fill="#26a69a"/>
<rect x="206.7" y="633.0" width="6.2" height="0.5" fill="#b2dfdb"/>
<rect x="214.2" y="633.2" width="6.2" height="0.3" fill="#b2dfdb"/>
<rect x="221.7" y="632.2" width="6.2" height="1.3" fill="#26a69a"/>
<rect x="229.2" y="629.7" width="6.2" height="3.8" fill="#26a69a"/>
<rect x="236.7" y="627.4" width="6.2" height="6.1" fill="#26a69a"/>
<rect x="244.2" y="628.4" width="6.2" height="5.1" fill="#b2dfdb"/>
<rect x="251.7" y="631.0" width="6.2" height="2.5" fill="#b2dfdb"/>
<rect x="259.2" y="632.0" width="6.2" height="1.5" fill="#b2dfdb"/>
<rect x="266.7" y="632.7" width="6.2" height="0.8" fill="#b2dfdb"/>
<rect x="274.3" y="633.5" width="6.2" height="3.0" fill="#ff5252"/>
<rect x="281.8" y="633.5" width="6.2" height="4.8" fill="#ff5252"/>
<rect x="289.3" y="633.5" width="6.2" height="3.0" fill="#ffcdd2"/>
<rect x="296.8" y="633.5" width="6.2" height="2.3" fill="#ffcdd2"/>
<rect x="304.3" y="633.5" width="6.2" height="1.8" fill="#ffcdd2"/>
<rect x="311.8" y="633.5" width="6.2" height="1.5" fill="#ffcdd2"/>
<rect x="319.3" y="633.5" width="6.2" height="1.5" fill="#ffcdd2"/>
<rect x="326.8" y="633.5" width="6.2" height="2.3" fill="#ff5252"/>
<rect x="334.3" y="633.5" width="6.2" height="1.3" fill="#ffcdd2"/>
<rect x="341.8" y="633.5" width="6.2" height="0.8" fill="#ffcdd2"/>
<rect x="349.4" y="632.0" width="6.2" height="1.5" fill="#26a69a"/>
<rect x="356.9" y="631.5" width="6.2" height="2.0" fill="#26a69a"/>
<rect x="364.4" y="631.5" width="6.2" height="2.0" fill="#26a69a"/>
<rect x="371.9" y="630.7" width="6.2" height="2.8" fill="#26a69a"/>
<rect x="379.4" y="630.2" width="6.2" height="3.3" fill="#26a69a"/>
<rect x="386.9" y="629.4" width="6.2" height="4.1" fill="#26a69a"/>
<rect x="394.4" y="628.4" width="6.2" height="5.1" fill="#26a69a"/>
<rect x="401.9" y="629.4" width="6.2" height="4.1" fill="#b2dfdb"/>
<rect x="409.4" y="629.7" width="6.2" height="3.8" fill="#b2dfdb"/>
<rect x="416.9" y="628.4" width="6.2" height="5.1" fill="#26a69a"/>
<rect x="424.5" y="627.7" width="6.2" height="5.8" fill="#26a69a"/>
<rect x="432.0" y="628.4" width="6.2" height="5.1" fill="#b2dfdb"/>
<rect x="439.5" y="628.2" width="6.2" height="5.3" fill="#b2dfdb"/>
<rect x="447.0" y="627.2" width="6.2" height="6.3" fill="#26a69a"/>
<rect x="454.5" y="626.4" width="6.2" height="7.1" fill="#26a69a"/>
<rect x="462.0" y="626.9" width="6.2" height="6.6" fill="#b2dfdb"/>
<rect x="469.5" y="626.4" width="6.2" height="7.1" fill="#26a69a"/>
<rect x="477.0" y="627.9" width="6.2" height="5.6" fill="#b2dfdb"/>
<rect x="484.5" y="628.4" width="6.2" height="5.1" fill="#b2dfdb"/>
<rect x="492.0" y="629.4" width="6.2" height="4.1" fill="#b2dfdb"/>
<rect x="499.6" y="628.4" width="6.2" height="5.1" fill="#26a69a"/>
<rect x="507.1" y="628.4" width="6.2" height="5.1" fill="#26a69a"/>
<rect x="514.6" y="628.4" width="6.2" height="5.1" fill="#26a69a"/>
<rect x="522.1" y="627.2" width="6.2" height="6.3" fill="#26a69a"/>
<rect x="529.6" y="626.1" width="6.2" height="7.4" fill="#26a69a"/>
<rect x="537.1" y="626.4" width="6.2" height="7.1" fill="#b2dfdb"/>
<rect x="544.6" y="627.4" width="6.2" height="6.1" fill="#b2dfdb"/>
<rect x="552.1" y="626.1" width="6.2" height="7.4" fill="#26a69a"/>
<rect x="559.6" y="626.4" width="6.2" height="7.1" fill="#b2dfdb"/>
<rect x="567.1" y="627.2" width="6.2" height="6.3" fill="#b2dfdb"/>
<rect x="574.7" y="627.2" width="6.2" height="6.3" fill="#b2dfdb"/>
<rect x="582.2" y="629.7" width="6.2" height="3.8" fill="#b2dfdb"/>
<rect x="589.7" y="631.0" width="6.2" height="2.5" fill="#b2dfdb"/>
<rect x="597.2" y="630.7" width="6.2" height="2.8" fill="#26a69a"/>
<rect x="604.7" y="631.7" width="6.2" height="1.8" fill="#b2dfdb"/>
<rect x="612.2" y="631.7" width="6.2" height="1.8" fill="#b2dfdb"/>
<rect x="619.7" y="632.7" width="6.2" height="0.8" fill="#b2dfdb"/>
<rect x="627.2" y="633.2" width="6.2" height="0.3" fill="#b2dfdb"/>
<rect x="634.7" y="633.5" width="6.2" height="2.3" fill="#ff5252"/>
<rect x="642.2" y="633.5" width="6.2" height="3.6" fill="#ff5252"/>
<rect x="649.8" y="633.5" width="6.2" height="5.8" fill="#ff5252"/>
<rect x="657.3" y="633.5" width="6.2" height="8.9" fill="#ff5252"/>
<rect x="664.8" y="633.5" width="6.2" height="8.9" fill="#ff5252"/>
<rect x="672.3" y="633.5" width="6.2" height="7.4" fill="#ffcdd2"/>
<rect x="679.8" y="633.5" width="6.2" height="6.3" fill="#ffcdd2"/>
<rect x="687.3" y="633.5" width="6.2" height="6.1" fill="#ffcdd2"/>
<rect x="694.8" y="633.5" width="6.2" height="6.1" fill="#ffcdd2"/>
<rect x="702.3" y="633.5" width="6.2" height="6.9" fill="#ff5252"/>
<rect x="709.8" y="633.5" width="6.2" height="5.6" fill="#ffcdd2"/>
<rect x="717.3" y="633.5" width="6.2" height="4.6" fill="#ffcdd2"/>
<rect x="724.9" y="633.5" width="6.2" height="1.0" fill="#ffcdd2"/>
<rect x="732.4" y="632.0" width="6.2" height="1.5" fill="#26a69a"/>
<rect x="739.9" y="630.5" width="6.2" height="3.0" fill="#26a69a"/>
<rect x="747.4" y="628.4" width="6.2" height="5.1" fill="#26a69a"/>
<rect x="754.9" y="626.9" width="6.2" height="6.6" fill="#26a69a"/>
<rect x="762.4" y="626.9" width="6.2" height="6.6" fill="#26a69a"/>
<rect x="769.9" y="628.4" width="6.2" height="5.1" fill="#b2dfdb"/>
<rect x="777.4" y="629.9" width="6.2" height="3.6" fill="#b2dfdb"/>
<rect x="784.9" y="631.5" width="6.2" height="2.0" fill="#b2dfdb"/>
<rect x="792.4" y="632.7" width="6.2" height="0.8" fill="#b2dfdb"/>
<rect x="800.0" y="632.0" width="6.2" height="1.5" fill="#26a69a"/>
<rect x="807.5" y="630.5" width="6.2" height="3.0" fill="#26a69a"/>
<rect x="815.0" y="628.2" width="6.2" height="5.3" fill="#26a69a"/>
<rect x="822.5" y="628.2" width="6.2" height="5.3" fill="#26a69a"/>
<rect x="830.0" y="627.4" width="6.2" height="6.1" fill="#26a69a"/>
<rect x="837.5" y="628.4" width="6.2" height="5.1" fill="#b2dfdb"/>
<rect x="845.0" y="633.2" width="6.2" height="0.3" fill="#b2dfdb"/>
<rect x="852.5" y="633.5" width="6.2" height="5.8" fill="#ff5252"/>
<rect x="860.0" y="633.5" width="6.2" height="9.6" fill="#ff5252"/>
<rect x="867.5" y="633.5" width="6.2" height="7.4" fill="#ffcdd2"/>
<rect x="875.1" y="633.5" width="6.2" height="1.0" fill="#ffcdd2"/>
<rect x="882.6" y="628.4" width="6.2" height="5.1" fill="#26a69a"/>
<rect x="890.1" y="626.4" width="6.2" height="7.1" fill="#26a69a"/>
<rect x="897.6" y="624.6" width="6.2" height="8.9" fill="#26a69a"/>
<rect x="905.1" y="620.6" width="6.2" height="12.9" fill="#26a69a"/>
<rect x="912.6" y="618.8" width="6.2" height="14.7" fill="#26a69a"/>
<rect x="920.1" y="614.5" width="6.2" height="19.0" fill="#26a69a"/>
<rect x="927.6" y="615.2" width="6.2" height="18.3" fill="#b2dfdb"/>
<rect x="935.1" y="621.1" width="6.2" height="12.4" fill="#b2dfdb"/>
<rect x="942.6" y="623.6" width="6.2" height="9.9" fill="#b2dfdb"/>
<rect x="950.2" y="627.2" width="6.2" height="6.3" fill="#b2dfdb"/>
<rect x="957.7" y="629.4" width="6.2" height="4.1" fill="#b2dfdb"/>
<rect x="965.2" y="633.0" width="6.2" height="0.5" fill="#b2dfdb"/>
<polyline points="7.6,606.6 25.4,605.3 44.4,606.3 59.6,610.4 73.6,615.5 88.8,623.1 101.5,630.7 111.7,635.0 121.8,637.6 132.0,638.8 142.1,639.3 165.0,639.3 192.9,638.8 215.7,638.6 228.4,637.6 238.6,635.8 251.3,633.8 264.0,633.0 274.1,633.8 284.3,635.0 297.0,636.3 309.6,637.6 322.3,638.6 335.0,639.1 340.0,639.3 365.4,638.1 390.8,635.3 416.1,631.2 441.5,626.9 466.9,621.1 492.3,616.8 517.7,612.2 543.0,606.3 568.4,600.3 583.7,597.7 606.5,595.9 629.3,594.9 647.1,596.7 667.4,602.0 680.0,605.3 695.2,608.9 713.0,612.2 730.8,612.2 751.1,609.6 771.4,606.3 794.2,604.6 814.5,602.0 832.3,599.0 842.4,598.2 855.1,600.3 867.8,603.8 880.5,604.1 895.7,600.8 908.4,595.2 921.1,587.6 933.8,581.2 946.5,577.2 956.6,574.9 967.6,574.1" fill="none" stroke="#ff6d00" stroke-width="1" stroke-opacity="0.88" stroke-linejoin="round"/>
<polyline points="7.6,603.8 15.2,602.5 22.8,604.6 30.5,606.3 44.4,609.1 52.0,614.7 59.6,617.3 66.5,620.3 74.1,626.9 81.7,633.8 88.8,640.1 96.4,645.2 102.8,647.7 109.1,648.2 116.8,647.2 124.4,645.2 132.0,642.6 138.3,640.1 142.1,637.8 149.7,639.1 165.0,639.1 177.7,638.6 192.9,638.1 200.5,637.6 215.7,637.6 223.4,636.3 231.0,633.2 238.6,631.2 243.7,629.9 251.3,630.5 258.9,630.7 266.5,631.7 274.1,635.0 281.7,637.6 289.3,638.8 297.0,639.3 307.1,640.1 317.3,639.3 329.9,640.1 340.0,639.3 347.6,638.3 355.2,637.1 373.0,635.0 385.7,632.5 398.4,629.2 413.6,626.9 426.3,623.6 441.5,621.1 456.8,616.5 472.0,612.4 479.6,612.9 497.4,611.4 507.5,609.1 517.7,607.1 525.3,604.6 532.9,601.5 540.5,599.7 546.9,599.0 554.5,596.2 563.4,594.4 577.3,592.4 583.7,593.9 591.3,594.7 601.4,593.9 614.1,593.7 629.3,594.9 644.6,599.5 659.8,608.9 667.4,610.9 680.0,611.7 690.2,613.5 705.4,616.8 718.1,616.5 730.8,612.2 743.5,607.9 756.1,602.8 766.3,600.8 776.4,601.5 794.2,603.8 806.9,602.0 819.6,597.0 832.3,593.9 839.9,593.9 847.5,599.0 855.1,605.3 862.7,611.4 869.1,610.9 876.7,606.3 885.6,597.7 899.5,590.6 908.4,582.5 916.0,576.6 923.7,567.8 930.0,564.7 937.6,567.3 945.2,567.0 952.8,569.0 960.5,570.3 967.6,573.6" fill="none" stroke="#2962ff" stroke-width="1" stroke-opacity="0.85" stroke-linejoin="round"/>
</g>
<line x1="7.5" y1="463.8" x2="1371.5" y2="463.8" stroke="#eeeef1" stroke-width="1"/>
<line x1="7.5" y1="554.0" x2="1371.5" y2="554.0" stroke="#eeeef1" stroke-width="1"/>
<rect x="7.0" y="20.5" width="1364.5" height="651.0" fill="none" stroke="#e9e9ec" stroke-width="1"/>
<path d="M982.8 501.2 L1011.6 517 L1301.4 517 Q1305 517 1305 520.6 L1305 538.9 Q1305 542.5 1301.4 542.5 L1009.6 542.5 Q1006 542.5 1006 538.9 L1006 522.6 Z" fill="#6fb6cb" fill-opacity="0.72"/>
<text x="1013.8" y="532.8" font-size="10.5" fill="#1c3040" text-anchor="start" font-weight="normal" textLength="283.5" lengthAdjust="spacingAndGlyphs" >RSI currently below 60, may imply fading bullish momentum</text>
<path d="M983.7 605.4 L1006.8 608.7 L1006.8 605.6 Q1006.8 602 1010.4 602 L1313.4 602 Q1317 602 1317 605.6 L1317 627.3 L1010.4 627.3 Q1006.8 627.3 1006.8 623.7 L1006.8 619.9 Z" fill="#6dc2cd" fill-opacity="0.72"/>
<text x="1014.2" y="617.9" font-size="10.5" fill="#1c3040" text-anchor="start" font-weight="normal" textLength="297.0" lengthAdjust="spacingAndGlyphs" >MACD still positive, yet may be on the cusp of turning negative</text>
<text x="8.1" y="13.9" font-size="9" fill="#2a2e39" text-anchor="start" font-weight="normal" textLength="296.0" lengthAdjust="spacingAndGlyphs" >IronFXResearch published on TradingView.com, Apr 29, 2025 15:48 UTC+3</text>
<text x="13.5" y="34.5" font-size="9" fill="#131722" text-anchor="start" font-weight="normal" textLength="12.0" lengthAdjust="spacingAndGlyphs" >Vol</text>
<text x="13.5" y="46.8" font-size="9" fill="#131722" text-anchor="start" font-weight="normal" textLength="16.7" lengthAdjust="spacingAndGlyphs" >EMA</text>
<text x="13.5" y="59.6" font-size="9" fill="#131722" text-anchor="start" font-weight="normal" textLength="16.7" lengthAdjust="spacingAndGlyphs" >EMA</text>
<text x="13.5" y="72.3" font-size="9" fill="#131722" text-anchor="start" font-weight="normal" textLength="10.2" lengthAdjust="spacingAndGlyphs" >BB</text>
<text x="13.5" y="478.0" font-size="9" fill="#131722" text-anchor="start" font-weight="normal" textLength="11.9" lengthAdjust="spacingAndGlyphs" >RSI</text>
<text x="13.0" y="569.8" font-size="9" fill="#131722" text-anchor="start" font-weight="normal" textLength="23.0" lengthAdjust="spacingAndGlyphs" >MACD</text>
<text x="1192.3" y="44.5" font-size="17" fill="#363a45" text-anchor="start" font-weight="normal" textLength="117.6" lengthAdjust="spacingAndGlyphs" stroke="#363a45" stroke-width="0.3">XAU/USD Daily</text>
<text x="1247.5" y="93.6" font-size="14" fill="#f23645" text-anchor="start" font-weight="normal" textLength="62.0" lengthAdjust="spacingAndGlyphs" stroke="#f23645" stroke-width="0.35">R3 - 3650</text>
<text x="1247.5" y="146.6" font-size="14" fill="#f23645" text-anchor="start" font-weight="normal" textLength="62.0" lengthAdjust="spacingAndGlyphs" stroke="#f23645" stroke-width="0.35">R2 - 3500</text>
<text x="1247.5" y="200.2" font-size="14" fill="#f23645" text-anchor="start" font-weight="normal" textLength="62.0" lengthAdjust="spacingAndGlyphs" stroke="#f23645" stroke-width="0.35">R1 - 3350</text>
<text x="1248.8" y="265.2" font-size="14" fill="#4caf50" text-anchor="start" font-weight="normal" textLength="60.7" lengthAdjust="spacingAndGlyphs" stroke="#4caf50" stroke-width="0.35">S1 - 3235</text>
<text x="1248.8" y="308.0" font-size="14" fill="#4caf50" text-anchor="start" font-weight="normal" textLength="60.7" lengthAdjust="spacingAndGlyphs" stroke="#4caf50" stroke-width="0.35">S2 - 3115</text>
<text x="1248.8" y="355.1" font-size="14" fill="#4caf50" text-anchor="start" font-weight="normal" textLength="60.7" lengthAdjust="spacingAndGlyphs" stroke="#4caf50" stroke-width="0.35">S3 - 2980</text>
<text x="1324.3" y="50.2" font-size="9" fill="#131722" text-anchor="start" font-weight="normal" textLength="39.2" lengthAdjust="spacingAndGlyphs" >3,800.000</text>
<text x="1324.3" y="85.6" font-size="9" fill="#131722" text-anchor="start" font-weight="normal" textLength="39.2" lengthAdjust="spacingAndGlyphs" >3,700.000</text>
<text x="1324.3" y="120.9" font-size="9" fill="#131722" text-anchor="start" font-weight="normal" textLength="39.2" lengthAdjust="spacingAndGlyphs" >3,600.000</text>
<text x="1324.3" y="191.6" font-size="9" fill="#131722" text-anchor="start" font-weight="normal" textLength="39.2" lengthAdjust="spacingAndGlyphs" >3,400.000</text>
<text x="1324.3" y="262.4" font-size="9" fill="#131722" text-anchor="start" font-weight="normal" textLength="39.2" lengthAdjust="spacingAndGlyphs" >3,200.000</text>
<text x="1324.3" y="297.7" font-size="9" fill="#131722" text-anchor="start" font-weight="normal" textLength="39.2" lengthAdjust="spacingAndGlyphs" >3,100.000</text>
<text x="1324.3" y="333.1" font-size="9" fill="#131722" text-anchor="start" font-weight="normal" textLength="39.2" lengthAdjust="spacingAndGlyphs" >3,000.000</text>
<text x="1324.3" y="368.4" font-size="9" fill="#131722" text-anchor="start" font-weight="normal" textLength="39.2" lengthAdjust="spacingAndGlyphs" >2,900.000</text>
<text x="1324.3" y="403.8" font-size="9" fill="#131722" text-anchor="start" font-weight="normal" textLength="39.2" lengthAdjust="spacingAndGlyphs" >2,800.000</text>
<text x="1324.3" y="439.2" font-size="9" fill="#131722" text-anchor="start" font-weight="normal" textLength="39.2" lengthAdjust="spacingAndGlyphs" >2,700.000</text>
<text x="1324.3" y="474.4" font-size="9" fill="#131722" text-anchor="start" font-weight="normal" textLength="22.0" lengthAdjust="spacingAndGlyphs" >80.00</text>
<text x="1324.3" y="534.6" font-size="9" fill="#131722" text-anchor="start" font-weight="normal" textLength="22.0" lengthAdjust="spacingAndGlyphs" >40.00</text>
<text x="1324.3" y="608.8" font-size="9" fill="#131722" text-anchor="start" font-weight="normal" textLength="26.7" lengthAdjust="spacingAndGlyphs" >40.000</text>
<rect x="1318.0" y="94.7" width="49.8" height="12.7" rx="1.5" fill="#f23645"/>
<text x="1324.3" y="103.5" font-size="9" fill="#fff" text-anchor="start" font-weight="normal" textLength="39.2" lengthAdjust="spacingAndGlyphs" >3,650.000</text>
<rect x="1318.0" y="148.0" width="49.8" height="12.7" rx="1.5" fill="#f23645"/>
<text x="1324.3" y="156.8" font-size="9" fill="#fff" text-anchor="start" font-weight="normal" textLength="39.2" lengthAdjust="spacingAndGlyphs" >3,500.000</text>
<rect x="1318.0" y="200.5" width="49.8" height="12.7" rx="1.5" fill="#f23645"/>
<text x="1324.3" y="209.3" font-size="9" fill="#fff" text-anchor="start" font-weight="normal" textLength="39.2" lengthAdjust="spacingAndGlyphs" >3,350.000</text>
<rect x="1318.0" y="241.2" width="49.8" height="12.7" rx="1.5" fill="#4caf50"/>
<text x="1324.3" y="250.0" font-size="9" fill="#fff" text-anchor="start" font-weight="normal" textLength="39.2" lengthAdjust="spacingAndGlyphs" >3,235.000</text>
<rect x="1318.0" y="283.9" width="49.8" height="12.7" rx="1.5" fill="#4caf50"/>
<text x="1324.3" y="292.8" font-size="9" fill="#fff" text-anchor="start" font-weight="normal" textLength="39.2" lengthAdjust="spacingAndGlyphs" >3,115.000</text>
<rect x="1318.0" y="331.2" width="49.8" height="12.7" rx="1.5" fill="#4caf50"/>
<text x="1324.3" y="340.1" font-size="9" fill="#fff" text-anchor="start" font-weight="normal" textLength="39.2" lengthAdjust="spacingAndGlyphs" >2,980.000</text>
<rect x="1318" y="216" width="49.8" height="22.8" rx="1.5" fill="#f23645"/>
<text x="1324.3" y="224.6" font-size="9" fill="#fff" text-anchor="start" font-weight="normal" textLength="39.2" lengthAdjust="spacingAndGlyphs" >3,308.903</text>
<text x="1324.3" y="234.7" font-size="9" fill="#fff" text-anchor="start" font-weight="normal" textLength="34.5" lengthAdjust="spacingAndGlyphs" fill-opacity="0.85">09:11:22</text>
<rect x="1279" y="216" width="37.9" height="12" rx="1.5" fill="#f23645"/>
<text x="1282.3" y="225.0" font-size="9" fill="#fff" text-anchor="start" font-weight="normal" textLength="31.6" lengthAdjust="spacingAndGlyphs" >XAUUSD</text>
<rect x="1257.9" y="483.2" width="59.4" height="12.6" rx="1.5" fill="#2962ff"/>
<text x="1260.3" y="492.0" font-size="9" fill="#fff" text-anchor="start" font-weight="normal" textLength="54.0" lengthAdjust="spacingAndGlyphs" >RSI-based MA</text>
<rect x="1317.8" y="483.2" width="32.5" height="12.6" rx="1.5" fill="#2962ff"/>
<text x="1324.3" y="492.0" font-size="9" fill="#fff" text-anchor="start" font-weight="normal" textLength="22.0" lengthAdjust="spacingAndGlyphs" >67.09</text>
<rect x="1298.6" y="496.4" width="18.7" height="12.3" rx="1.5" fill="#7e57c2"/>
<text x="1302.2" y="505.0" font-size="9" fill="#fff" text-anchor="start" font-weight="normal" textLength="12.0" lengthAdjust="spacingAndGlyphs" >RSI</text>
<rect x="1317.8" y="496.4" width="32.5" height="12.3" rx="1.5" fill="#7e57c2"/>
<text x="1324.3" y="505.0" font-size="9" fill="#fff" text-anchor="start" font-weight="normal" textLength="22.0" lengthAdjust="spacingAndGlyphs" >59.76</text>
<rect x="1287.9" y="556.2" width="29.4" height="12.6" rx="1.5" fill="#2962ff"/>
<text x="1291.5" y="565.0" font-size="9" fill="#fff" text-anchor="start" font-weight="normal" textLength="22.5" lengthAdjust="spacingAndGlyphs" >MACD</text>
<rect x="1317.8" y="556.2" width="37.1" height="12.6" rx="1.5" fill="#2962ff"/>
<text x="1324.3" y="565.0" font-size="9" fill="#fff" text-anchor="start" font-weight="normal" textLength="26.7" lengthAdjust="spacingAndGlyphs" >86.500</text>
<rect x="1287.1" y="569.2" width="30.2" height="12.4" rx="1.5" fill="#ff6d00"/>
<text x="1290.5" y="577.9" font-size="9" fill="#fff" text-anchor="start" font-weight="normal" textLength="23.5" lengthAdjust="spacingAndGlyphs" >Signal</text>
<rect x="1317.8" y="569.2" width="37.1" height="12.4" rx="1.5" fill="#ff6d00"/>
<text x="1324.3" y="577.9" font-size="9" fill="#fff" text-anchor="start" font-weight="normal" textLength="26.7" lengthAdjust="spacingAndGlyphs" >85.491</text>
<rect x="1270.2" y="627.0" width="47.1" height="12.3" rx="0" fill="#b2dfdb"/>
<text x="1273.9" y="635.6" font-size="9" fill="#131722" text-anchor="start" font-weight="normal" textLength="40.0" lengthAdjust="spacingAndGlyphs" >Histogram</text>
<rect x="1317.8" y="627.0" width="32.5" height="12.3" rx="0" fill="#b2dfdb"/>
<text x="1324.3" y="635.6" font-size="9" fill="#131722" text-anchor="start" font-weight="normal" textLength="22.0" lengthAdjust="spacingAndGlyphs" >1.009</text>
<text x="29.5" y="664.1" font-size="9" fill="#131722" text-anchor="middle" font-weight="normal" >Nov</text>
<text x="187.2" y="664.1" font-size="9" fill="#131722" text-anchor="middle" font-weight="normal" >Dec</text>
<text x="344.9" y="664.1" font-size="9" fill="#131722" text-anchor="middle" font-weight="bold" >2025</text>
<text x="517.7" y="664.1" font-size="9" fill="#131722" text-anchor="middle" font-weight="normal" >Feb</text>
<text x="667.9" y="664.1" font-size="9" fill="#131722" text-anchor="middle" font-weight="normal" >Mar</text>
<text x="825.6" y="664.1" font-size="9" fill="#131722" text-anchor="middle" font-weight="normal" >Apr</text>
<text x="983.3" y="664.1" font-size="9" fill="#131722" text-anchor="middle" font-weight="normal" >May</text>
<text x="1148.5" y="664.1" font-size="9" fill="#131722" text-anchor="middle" font-weight="normal" >Jun</text>
<text x="1306.2" y="664.1" font-size="9" fill="#131722" text-anchor="middle" font-weight="normal" >Jul</text>
<g fill="#131722"><path d="M7.4 681.2 h6.6 v6.7 h-3.4 v-3.4 h-3.2 z"/><circle cx="15.9" cy="682.9" r="1.65"/><path d="M18.2 681.2 h3.9 l-2.9 6.7 h-3.9 z"/></g>
<text x="25.2" y="687.9" font-size="9.6" fill="#131722" text-anchor="start" font-weight="normal" textLength="52.5" lengthAdjust="spacingAndGlyphs" >TradingView</text>
</svg>
</body></html>
